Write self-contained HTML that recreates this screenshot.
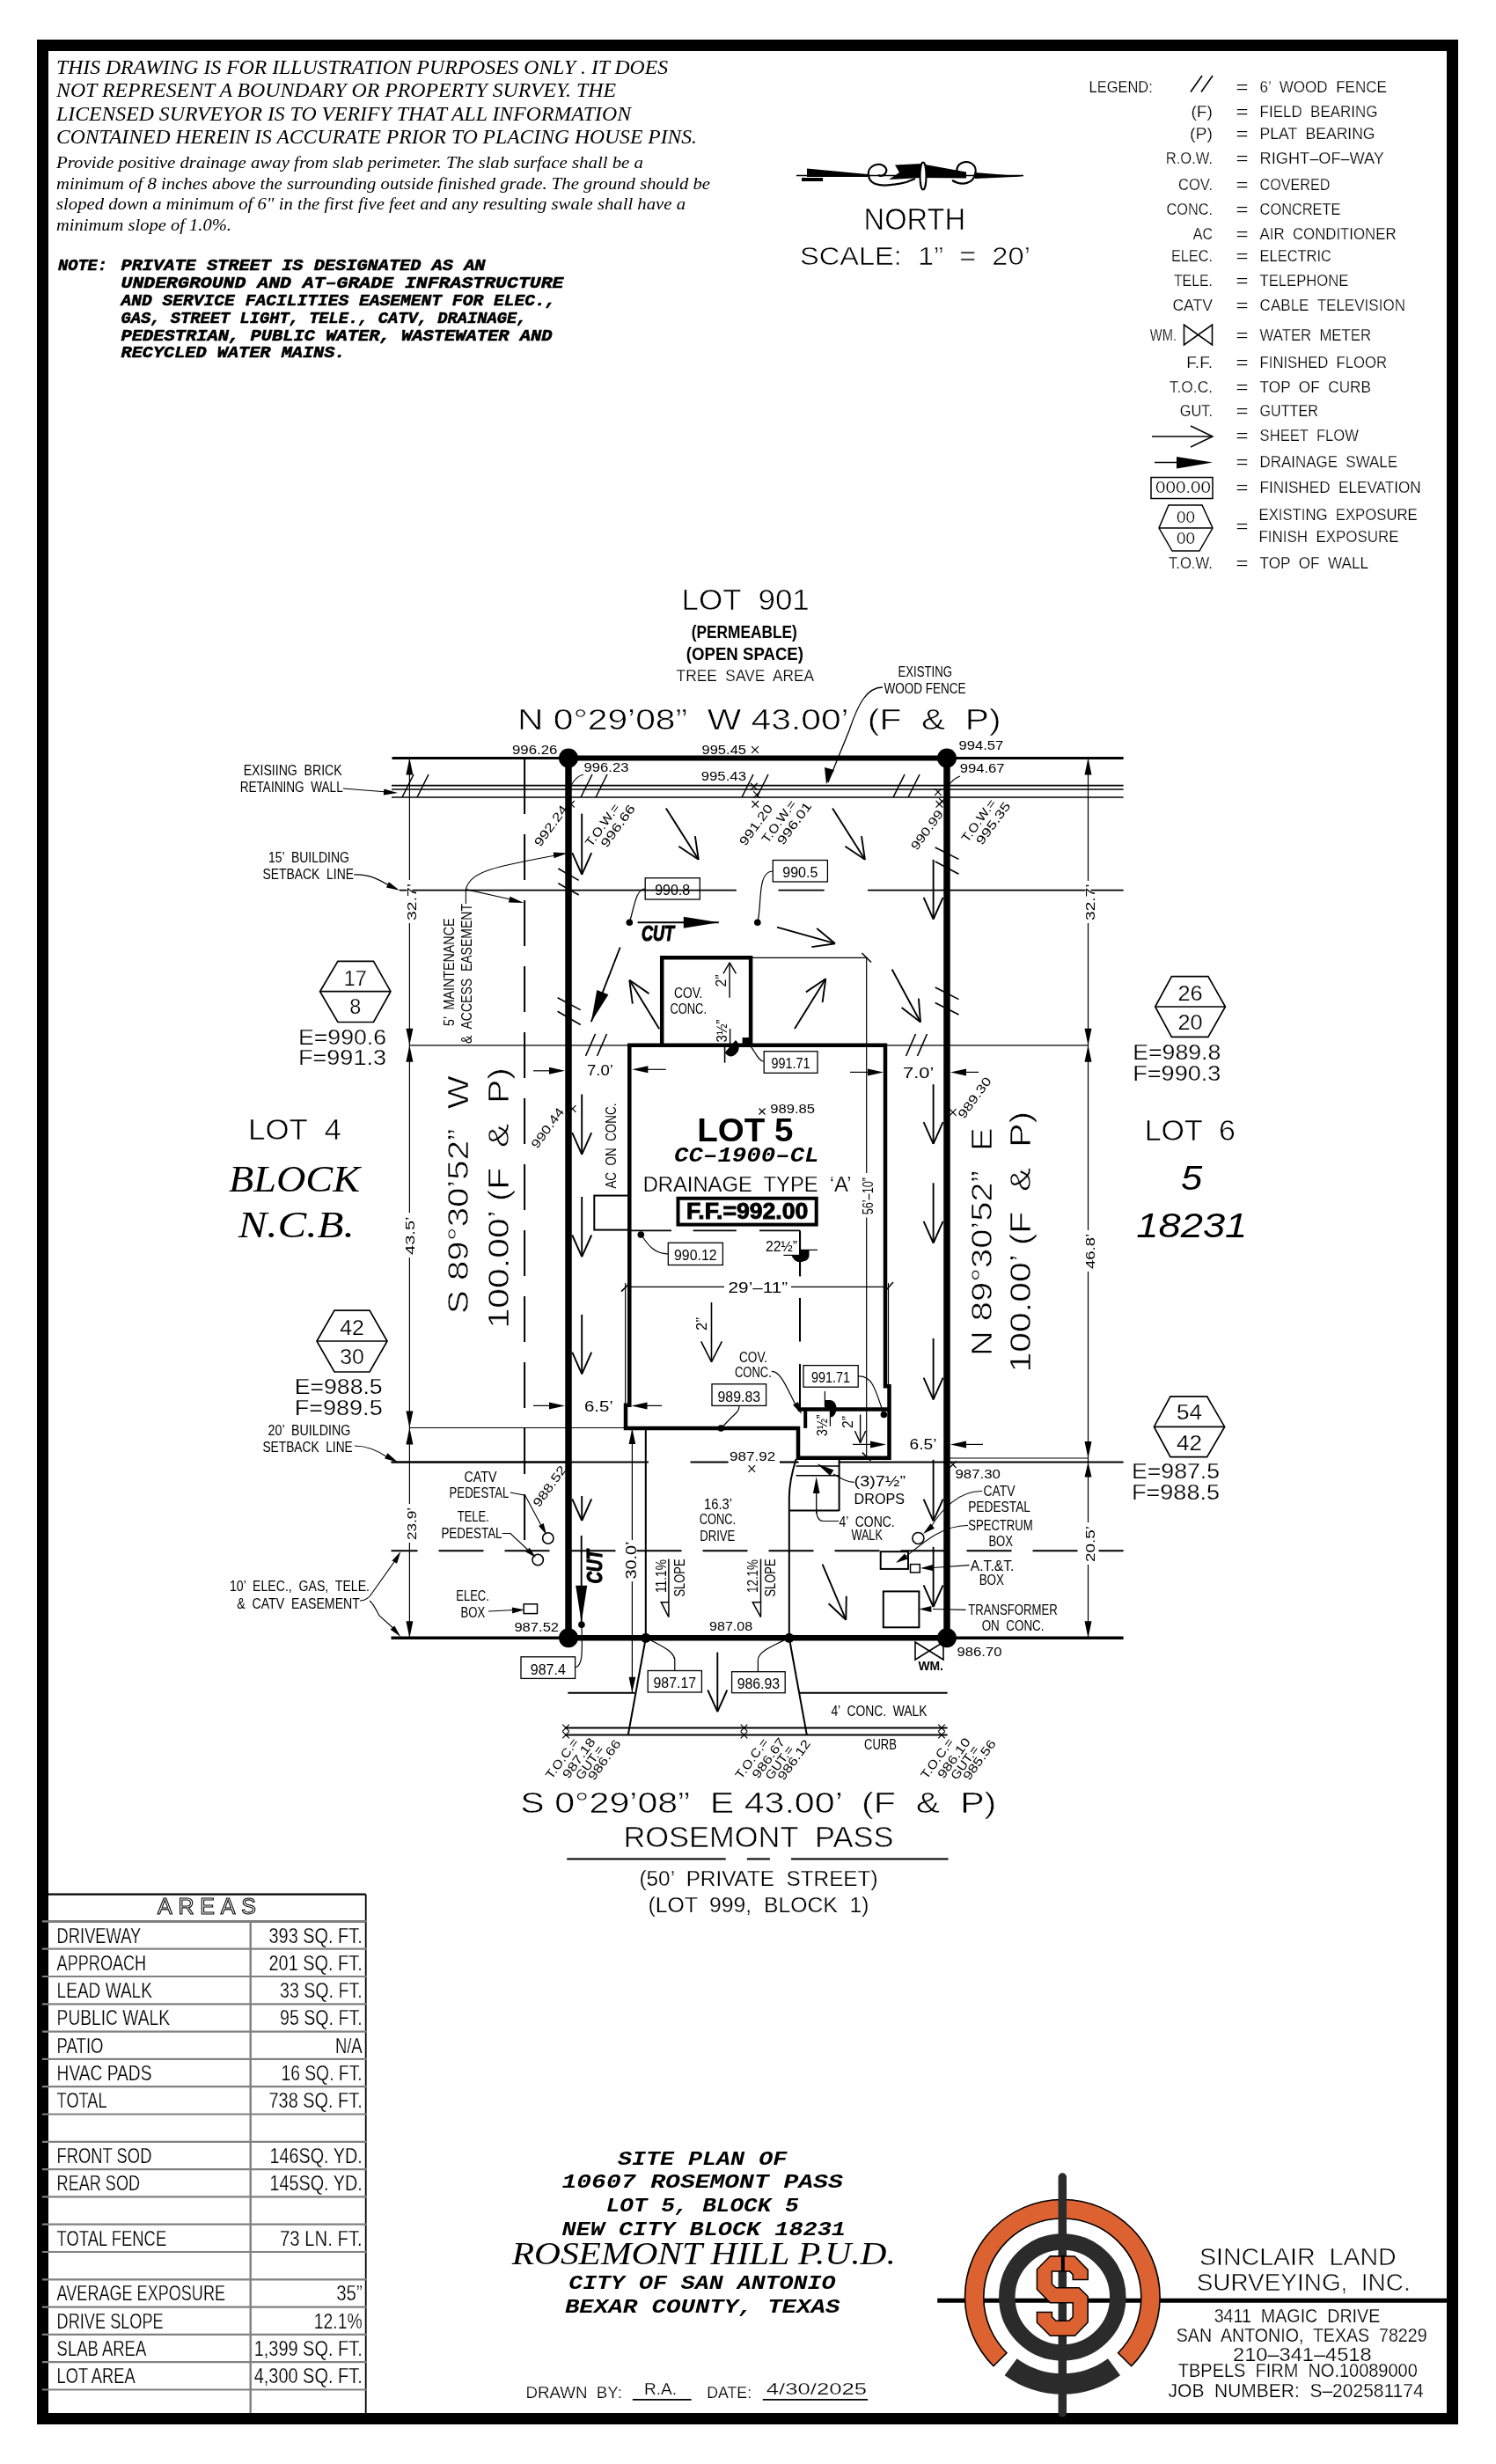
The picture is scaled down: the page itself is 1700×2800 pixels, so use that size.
<!DOCTYPE html>
<html><head><meta charset="utf-8">
<style>
html,body{margin:0;padding:0;background:#fff;width:1700px;height:2800px;overflow:hidden}
svg{display:block;will-change:transform}
text{white-space:pre}
.s{font-family:"Liberation Sans",sans-serif;fill:#000;stroke:#fff;stroke-width:0.25px}
.s0{font-family:"Liberation Sans",sans-serif;fill:#000}
.st{font-family:"Liberation Sans",sans-serif;fill:#000;stroke:#fff;stroke-width:0.6px}
.sb{font-family:"Liberation Sans",sans-serif;font-weight:bold;fill:#000}
.si{font-family:"Liberation Serif",serif;font-style:italic;fill:#000}
.sr{font-family:"Liberation Serif",serif;fill:#000}
.nb{font-family:"Liberation Mono",monospace;font-style:italic;font-weight:bold;fill:#000;stroke:#000;stroke-width:0.6px}
.ci{font-family:"Liberation Sans",sans-serif;font-style:italic;font-weight:bold;fill:#000;stroke:#000;stroke-width:1.2px}
.sri{font-family:"Liberation Sans",sans-serif;font-style:italic;fill:#000}
.nt{font-family:"Liberation Mono",monospace;font-style:italic;font-weight:bold;fill:#000}
.sbi{font-family:"Liberation Serif",serif;font-style:italic;font-weight:bold;fill:#000}
</style></head><body>
<svg width="1700" height="2800" viewBox="0 0 1700 2800">
<rect x="48.5" y="51.5" width="1602.0" height="2697.0" stroke="#000" stroke-width="13" fill="none"/>
<text class="si" x="64.0" y="84.0" font-size="23.5" textLength="695.0" lengthAdjust="spacingAndGlyphs">THIS DRAWING IS FOR ILLUSTRATION PURPOSES ONLY . IT DOES</text>
<text class="si" x="64.0" y="110.0" font-size="23.5" textLength="636.0" lengthAdjust="spacingAndGlyphs">NOT REPRESENT A BOUNDARY OR PROPERTY SURVEY. THE</text>
<text class="si" x="64.0" y="136.6" font-size="23.5" textLength="653.0" lengthAdjust="spacingAndGlyphs">LICENSED SURVEYOR IS TO VERIFY THAT ALL INFORMATION</text>
<text class="si" x="64.0" y="163.3" font-size="23.5" textLength="728.0" lengthAdjust="spacingAndGlyphs">CONTAINED HEREIN IS ACCURATE PRIOR TO PLACING HOUSE PINS.</text>
<text class="si" x="64.0" y="191.4" font-size="19.5" textLength="667.0" lengthAdjust="spacingAndGlyphs">Provide positive drainage away from slab perimeter. The slab surface shall be a</text>
<text class="si" x="64.0" y="214.5" font-size="19.5" textLength="743.0" lengthAdjust="spacingAndGlyphs">minimum of 8 inches above the surrounding outside finished grade. The ground should be</text>
<text class="si" x="64.0" y="238.0" font-size="19.5" textLength="715.0" lengthAdjust="spacingAndGlyphs">sloped down a minimum of 6" in the first five feet and any resulting swale shall have a</text>
<text class="si" x="64.0" y="262.2" font-size="19.5" textLength="199.0" lengthAdjust="spacingAndGlyphs">minimum slope of 1.0%.</text>
<text class="nb" x="66.0" y="306.7" font-size="19" textLength="56.0" lengthAdjust="spacingAndGlyphs">NOTE:</text>
<text class="nb" x="137.5" y="306.7" font-size="19" textLength="414.0" lengthAdjust="spacingAndGlyphs">PRIVATE STREET IS DESIGNATED AS AN</text>
<text class="nb" x="137.5" y="326.8" font-size="19" textLength="503.0" lengthAdjust="spacingAndGlyphs">UNDERGROUND AND AT–GRADE INFRASTRUCTURE</text>
<text class="nb" x="137.5" y="346.8" font-size="19" textLength="494.0" lengthAdjust="spacingAndGlyphs">AND SERVICE FACILITIES EASEMENT FOR ELEC.,</text>
<text class="nb" x="137.5" y="366.9" font-size="19" textLength="461.0" lengthAdjust="spacingAndGlyphs">GAS, STREET LIGHT, TELE., CATV, DRAINAGE,</text>
<text class="nb" x="137.5" y="387.0" font-size="19" textLength="490.0" lengthAdjust="spacingAndGlyphs">PEDESTRIAN, PUBLIC WATER, WASTEWATER AND</text>
<text class="nb" x="137.5" y="405.7" font-size="19" textLength="255.0" lengthAdjust="spacingAndGlyphs">RECYCLED WATER MAINS.</text>
<text class="s" x="1237.6" y="104.5" font-size="18.5" textLength="72.2" lengthAdjust="spacingAndGlyphs">LEGEND:</text>
<text class="s" x="1431.6" y="104.5" font-size="18.5" textLength="144.4" lengthAdjust="spacingAndGlyphs">6’  WOOD  FENCE</text>
<text class="s" x="1404.5" y="104.5" font-size="18.5" textLength="14.0" lengthAdjust="spacingAndGlyphs">=</text>
<text class="s" x="1353.4" y="133.1" font-size="18.5" textLength="24.6" lengthAdjust="spacingAndGlyphs">(F)</text>
<text class="s" x="1431.6" y="133.1" font-size="18.5" textLength="133.9" lengthAdjust="spacingAndGlyphs">FIELD  BEARING</text>
<text class="s" x="1404.5" y="133.1" font-size="18.5" textLength="14.0" lengthAdjust="spacingAndGlyphs">=</text>
<text class="s" x="1352.0" y="157.8" font-size="18.5" textLength="26.0" lengthAdjust="spacingAndGlyphs">(P)</text>
<text class="s" x="1431.6" y="157.8" font-size="18.5" textLength="130.9" lengthAdjust="spacingAndGlyphs">PLAT  BEARING</text>
<text class="s" x="1404.5" y="157.8" font-size="18.5" textLength="14.0" lengthAdjust="spacingAndGlyphs">=</text>
<text class="s" x="1324.8" y="186.4" font-size="18.5" textLength="53.2" lengthAdjust="spacingAndGlyphs">R.O.W.</text>
<text class="s" x="1431.6" y="186.4" font-size="18.5" textLength="141.4" lengthAdjust="spacingAndGlyphs">RIGHT–OF–WAY</text>
<text class="s" x="1404.5" y="186.4" font-size="18.5" textLength="14.0" lengthAdjust="spacingAndGlyphs">=</text>
<text class="s" x="1339.0" y="215.5" font-size="18.5" textLength="39.0" lengthAdjust="spacingAndGlyphs">COV.</text>
<text class="s" x="1431.6" y="215.5" font-size="18.5" textLength="79.8" lengthAdjust="spacingAndGlyphs">COVERED</text>
<text class="s" x="1404.5" y="215.5" font-size="18.5" textLength="14.0" lengthAdjust="spacingAndGlyphs">=</text>
<text class="s" x="1325.5" y="243.5" font-size="18.5" textLength="52.5" lengthAdjust="spacingAndGlyphs">CONC.</text>
<text class="s" x="1431.6" y="243.5" font-size="18.5" textLength="91.8" lengthAdjust="spacingAndGlyphs">CONCRETE</text>
<text class="s" x="1404.5" y="243.5" font-size="18.5" textLength="14.0" lengthAdjust="spacingAndGlyphs">=</text>
<text class="s" x="1355.8" y="271.5" font-size="18.5" textLength="22.2" lengthAdjust="spacingAndGlyphs">AC</text>
<text class="s" x="1431.6" y="271.5" font-size="18.5" textLength="155.0" lengthAdjust="spacingAndGlyphs">AIR  CONDITIONER</text>
<text class="s" x="1404.5" y="271.5" font-size="18.5" textLength="14.0" lengthAdjust="spacingAndGlyphs">=</text>
<text class="s" x="1330.9" y="296.8" font-size="18.5" textLength="47.1" lengthAdjust="spacingAndGlyphs">ELEC.</text>
<text class="s" x="1431.6" y="296.8" font-size="18.5" textLength="81.3" lengthAdjust="spacingAndGlyphs">ELECTRIC</text>
<text class="s" x="1404.5" y="296.8" font-size="18.5" textLength="14.0" lengthAdjust="spacingAndGlyphs">=</text>
<text class="s" x="1333.9" y="324.7" font-size="18.5" textLength="44.1" lengthAdjust="spacingAndGlyphs">TELE.</text>
<text class="s" x="1431.6" y="324.7" font-size="18.5" textLength="100.8" lengthAdjust="spacingAndGlyphs">TELEPHONE</text>
<text class="s" x="1404.5" y="324.7" font-size="18.5" textLength="14.0" lengthAdjust="spacingAndGlyphs">=</text>
<text class="s" x="1332.4" y="353.3" font-size="18.5" textLength="45.6" lengthAdjust="spacingAndGlyphs">CATV</text>
<text class="s" x="1431.6" y="353.3" font-size="18.5" textLength="165.4" lengthAdjust="spacingAndGlyphs">CABLE  TELEVISION</text>
<text class="s" x="1404.5" y="353.3" font-size="18.5" textLength="14.0" lengthAdjust="spacingAndGlyphs">=</text>
<text class="s" x="1306.8" y="387.0" font-size="18.5" textLength="30.2" lengthAdjust="spacingAndGlyphs">WM.</text>
<text class="s" x="1431.6" y="387.0" font-size="18.5" textLength="126.4" lengthAdjust="spacingAndGlyphs">WATER  METER</text>
<text class="s" x="1404.5" y="387.0" font-size="18.5" textLength="14.0" lengthAdjust="spacingAndGlyphs">=</text>
<text class="s" x="1348.3" y="417.7" font-size="18.5" textLength="29.7" lengthAdjust="spacingAndGlyphs">F.F.</text>
<text class="s" x="1431.6" y="417.7" font-size="18.5" textLength="144.4" lengthAdjust="spacingAndGlyphs">FINISHED  FLOOR</text>
<text class="s" x="1404.5" y="417.7" font-size="18.5" textLength="14.0" lengthAdjust="spacingAndGlyphs">=</text>
<text class="s" x="1328.8" y="446.3" font-size="18.5" textLength="49.2" lengthAdjust="spacingAndGlyphs">T.O.C.</text>
<text class="s" x="1431.6" y="446.3" font-size="18.5" textLength="126.4" lengthAdjust="spacingAndGlyphs">TOP  OF  CURB</text>
<text class="s" x="1404.5" y="446.3" font-size="18.5" textLength="14.0" lengthAdjust="spacingAndGlyphs">=</text>
<text class="s" x="1340.8" y="472.7" font-size="18.5" textLength="37.2" lengthAdjust="spacingAndGlyphs">GUT.</text>
<text class="s" x="1431.6" y="472.7" font-size="18.5" textLength="66.2" lengthAdjust="spacingAndGlyphs">GUTTER</text>
<text class="s" x="1404.5" y="472.7" font-size="18.5" textLength="14.0" lengthAdjust="spacingAndGlyphs">=</text>
<text class="s" x="1431.6" y="501.0" font-size="18.5" textLength="112.3" lengthAdjust="spacingAndGlyphs">SHEET  FLOW</text>
<text class="s" x="1404.5" y="501.0" font-size="18.5" textLength="14.0" lengthAdjust="spacingAndGlyphs">=</text>
<text class="s" x="1431.6" y="530.5" font-size="18.5" textLength="156.4" lengthAdjust="spacingAndGlyphs">DRAINAGE  SWALE</text>
<text class="s" x="1404.5" y="530.5" font-size="18.5" textLength="14.0" lengthAdjust="spacingAndGlyphs">=</text>
<text class="s" x="1431.6" y="560.0" font-size="18.5" textLength="183.0" lengthAdjust="spacingAndGlyphs">FINISHED  ELEVATION</text>
<text class="s" x="1404.5" y="560.0" font-size="18.5" textLength="14.0" lengthAdjust="spacingAndGlyphs">=</text>
<text class="s" x="1430.5" y="590.7" font-size="18.5" textLength="180.2" lengthAdjust="spacingAndGlyphs">EXISTING  EXPOSURE</text>
<text class="s" x="1430.5" y="616.2" font-size="18.5" textLength="159.1" lengthAdjust="spacingAndGlyphs">FINISH  EXPOSURE</text>
<text class="s" x="1327.9" y="646.3" font-size="18.5" textLength="50.1" lengthAdjust="spacingAndGlyphs">T.O.W.</text>
<text class="s" x="1431.6" y="646.3" font-size="18.5" textLength="123.4" lengthAdjust="spacingAndGlyphs">TOP  OF  WALL</text>
<text class="s" x="1404.5" y="646.3" font-size="18.5" textLength="14.0" lengthAdjust="spacingAndGlyphs">=</text>
<text class="s" x="1404.5" y="603.6" font-size="18.5" textLength="14.0" lengthAdjust="spacingAndGlyphs">=</text>
<line x1="1353.0" y1="104.5" x2="1366.0" y2="86.0" stroke="#000" stroke-width="1.6"/>
<line x1="1365.0" y1="104.5" x2="1378.0" y2="86.0" stroke="#000" stroke-width="1.6"/>
<path d="M1345.5,369 V392 L1377.5,369 V392 Z" stroke="#000" stroke-width="1.6" fill="none"/>
<line x1="1309.0" y1="496.0" x2="1378.0" y2="496.0" stroke="#000" stroke-width="1.5"/>
<path d="M1353,484 L1378,496 L1353,508" stroke="#000" stroke-width="1.5" fill="none"/>
<line x1="1312.0" y1="525.5" x2="1345.0" y2="525.5" stroke="#000" stroke-width="1.5"/>
<polygon points="1337,519 1378,525.5 1337,532.5" fill="#000"/>
<rect x="1308.0" y="542.5" width="70.0" height="24.0" stroke="#000" stroke-width="1.5" fill="none"/>
<text class="s" x="1313.0" y="560.0" font-size="18.5" textLength="63.0" lengthAdjust="spacingAndGlyphs">000.00</text>
<path d="M1328,574 L1366,574 L1378,600 L1363,626 L1332,626 L1317,600 Z" stroke="#000" stroke-width="1.5" fill="none"/>
<line x1="1317.0" y1="600.0" x2="1378.0" y2="600.0" stroke="#000" stroke-width="1.5"/>
<text class="s" x="1337.0" y="594.3" font-size="18.5" textLength="21.0" lengthAdjust="spacingAndGlyphs">00</text>
<text class="s" x="1337.0" y="618.4" font-size="18.5" textLength="21.0" lengthAdjust="spacingAndGlyphs">00</text>
<line x1="905.0" y1="199.5" x2="1163.0" y2="199.5" stroke="#000" stroke-width="1.6"/>
<polygon points="917,191.5 986,198 986,201 917,201" fill="#000"/>
<rect x="911" y="202" width="24" height="4" fill="#000"/>
<polygon points="1017,187.5 1046,186 1098,195.5 1098,202.5 1046,202 1010,204 1022,196" fill="#000"/>
<path d="M987,199 C985,188 1000,183 1006,190 C1010,196 1003,202 998,199 M987,199 C988,212 1005,213 1030,207 L1040,203" stroke="#000" stroke-width="2.2" fill="none"/>
<path d="M1108,198 C1112,186 1098,180 1090,187 C1084,194 1090,202 1096,198 M1108,198 C1106,208 1094,212 1082,205" stroke="#000" stroke-width="2.2" fill="none"/>
<polygon points="1108,196 1163,200.5 1108,203" fill="#000"/>
<ellipse cx="1049" cy="200" rx="3.5" ry="15.5" fill="#fff" stroke="#000" stroke-width="2"/>
<text class="st" x="981.6" y="260.5" font-size="35" textLength="115.4" lengthAdjust="spacingAndGlyphs">NORTH</text>
<text class="st" x="908.9" y="300.7" font-size="30" textLength="262.0" lengthAdjust="spacingAndGlyphs">SCALE:  1”  =  20’</text>
<text class="st" x="774.6" y="692.9" font-size="33" textLength="145.2" lengthAdjust="spacingAndGlyphs">LOT  901</text>
<text class="sb" x="785.8" y="725.0" font-size="20" textLength="120.0" lengthAdjust="spacingAndGlyphs">(PERMEABLE)</text>
<text class="sb" x="779.8" y="750.3" font-size="20" textLength="133.2" lengthAdjust="spacingAndGlyphs">(OPEN SPACE)</text>
<text class="s" x="768.6" y="773.5" font-size="19" textLength="156.4" lengthAdjust="spacingAndGlyphs">TREE  SAVE  AREA</text>
<text class="s0" x="1020.5" y="769.0" font-size="16" textLength="61.5" lengthAdjust="spacingAndGlyphs">EXISTING</text>
<text class="s0" x="1004.4" y="788.4" font-size="16" textLength="93.1" lengthAdjust="spacingAndGlyphs">WOOD FENCE</text>
<path d="M1003,781 C985,781 975,800 965,830 L941,889" stroke="#000" stroke-width="1.3" fill="none"/>
<polygon points="939,891 937,872 948,875" fill="#000"/>
<text class="st" x="588.0" y="829.3" font-size="33" textLength="549.6" lengthAdjust="spacingAndGlyphs">N 0°29’08”  W 43.00’  (F  &amp;  P)</text>
<line x1="445.5" y1="861.5" x2="646.0" y2="861.5" stroke="#000" stroke-width="2.8"/>
<line x1="1076.0" y1="861.5" x2="1276.6" y2="861.5" stroke="#000" stroke-width="2.8"/>
<line x1="444.5" y1="1861.3" x2="646.0" y2="1861.3" stroke="#000" stroke-width="3.5"/>
<line x1="1076.0" y1="1861.3" x2="1276.6" y2="1861.3" stroke="#000" stroke-width="3.5"/>
<line x1="445.0" y1="892.7" x2="1276.6" y2="892.7" stroke="#000" stroke-width="1.7"/>
<line x1="445.0" y1="897.0" x2="1276.6" y2="897.0" stroke="#000" stroke-width="1.7"/>
<line x1="445.0" y1="906.0" x2="1276.6" y2="906.0" stroke="#000" stroke-width="1.7"/>
<line x1="646.0" y1="861.5" x2="1076.0" y2="861.5" stroke="#000" stroke-width="6"/>
<line x1="646.0" y1="1861.3" x2="1076.0" y2="1861.3" stroke="#000" stroke-width="6.5"/>
<line x1="646.0" y1="861.5" x2="646.0" y2="1861.3" stroke="#000" stroke-width="7.5"/>
<line x1="1076.0" y1="861.5" x2="1076.0" y2="1861.3" stroke="#000" stroke-width="7.5"/>
<circle cx="646.0" cy="861.5" r="11" fill="#000" stroke="#000" stroke-width="0"/>
<circle cx="1076.0" cy="861.5" r="11" fill="#000" stroke="#000" stroke-width="0"/>
<circle cx="646.0" cy="1861.3" r="11" fill="#000" stroke="#000" stroke-width="0"/>
<circle cx="1076.0" cy="1861.3" r="11" fill="#000" stroke="#000" stroke-width="0"/>
<line x1="453.8" y1="1011.7" x2="646.0" y2="1011.7" stroke="#000" stroke-width="1.7"/>
<line x1="646.0" y1="1011.7" x2="836.8" y2="1011.7" stroke="#000" stroke-width="1.7"/>
<line x1="884.5" y1="1011.7" x2="936.7" y2="1011.7" stroke="#000" stroke-width="1.7"/>
<line x1="986.0" y1="1011.7" x2="1276.6" y2="1011.7" stroke="#000" stroke-width="1.7"/>
<line x1="465.4" y1="1187.8" x2="1236.5" y2="1187.8" stroke="#000" stroke-width="1.2"/>
<line x1="465.4" y1="1622.5" x2="711.0" y2="1622.5" stroke="#000" stroke-width="1.2"/>
<line x1="1077.0" y1="1657.0" x2="1236.5" y2="1657.0" stroke="#000" stroke-width="1.2"/>
<line x1="444.5" y1="1661.5" x2="646.0" y2="1661.5" stroke="#000" stroke-width="2.5"/>
<line x1="646.0" y1="1661.5" x2="736.9" y2="1661.5" stroke="#000" stroke-width="2.2"/>
<line x1="784.5" y1="1661.5" x2="827.6" y2="1661.5" stroke="#000" stroke-width="2.2"/>
<line x1="886.0" y1="1661.5" x2="907.5" y2="1661.5" stroke="#000" stroke-width="2.2"/>
<line x1="953.6" y1="1661.5" x2="1276.6" y2="1661.5" stroke="#000" stroke-width="2.2"/>
<line x1="444.5" y1="1762.3" x2="1276.6" y2="1762.3" stroke="#000" stroke-width="2" stroke-dasharray="51 24" stroke-dashoffset="21"/>
<line x1="465.4" y1="861.5" x2="465.4" y2="1861.3" stroke="#000" stroke-width="1.2"/>
<line x1="1236.5" y1="861.5" x2="1236.5" y2="1861.3" stroke="#000" stroke-width="1.2"/>
<line x1="596.1" y1="862" x2="596.1" y2="925" stroke="#000" stroke-width="2"/>
<line x1="596.1" y1="948" x2="596.1" y2="1762" stroke="#000" stroke-width="2" stroke-dasharray="52 23"/>
<rect x="462.4" y="1000" width="6" height="49" fill="#fff"/>
<rect x="462.4" y="1378" width="6" height="51" fill="#fff"/>
<rect x="462.4" y="1709" width="6" height="44" fill="#fff"/>
<rect x="1233.5" y="1001" width="6" height="48" fill="#fff"/>
<rect x="1233.5" y="1398" width="6" height="47" fill="#fff"/>
<rect x="1233.5" y="1730" width="6" height="48" fill="#fff"/>
<polygon points="465.4,861.5 469.4,880.5 461.4,880.5" fill="#000"/>
<polygon points="465.4,1187.8 461.4,1168.8 469.4,1168.8" fill="#000"/>
<polygon points="465.4,1187.8 469.4,1206.8 461.4,1206.8" fill="#000"/>
<polygon points="465.4,1861.3 461.4,1842.3 469.4,1842.3" fill="#000"/>
<polygon points="1236.5,861.5 1240.5,880.5 1232.5,880.5" fill="#000"/>
<polygon points="1236.5,1187.8 1232.5,1168.8 1240.5,1168.8" fill="#000"/>
<polygon points="1236.5,1187.8 1240.5,1206.8 1232.5,1206.8" fill="#000"/>
<polygon points="1236.5,1861.3 1232.5,1842.3 1240.5,1842.3" fill="#000"/>
<polygon points="465.4,1622.5 461.4,1603.5 469.4,1603.5" fill="#000"/>
<polygon points="465.4,1622.5 469.4,1641.5 461.4,1641.5" fill="#000"/>
<polygon points="1236.5,1657.0 1232.5,1638.0 1240.5,1638.0" fill="#000"/>
<polygon points="1236.5,1661.5 1240.5,1678.5 1232.5,1678.5" fill="#000"/>
<text class="s0" x="473.0" y="1045.9" font-size="15" textLength="42.0" lengthAdjust="spacingAndGlyphs" transform="rotate(-90 473 1045.9)">32.7’</text>
<text class="s0" x="471.0" y="1426.0" font-size="15" textLength="43.5" lengthAdjust="spacingAndGlyphs" transform="rotate(-90 471 1426)">43.5’</text>
<text class="s0" x="473.0" y="1750.0" font-size="15" textLength="37.0" lengthAdjust="spacingAndGlyphs" transform="rotate(-90 473 1750)">23.9’</text>
<text class="s0" x="1243.5" y="1046.0" font-size="15" textLength="41.5" lengthAdjust="spacingAndGlyphs" transform="rotate(-90 1243.5 1046)">32.7’</text>
<text class="s0" x="1243.5" y="1442.0" font-size="15" textLength="40.0" lengthAdjust="spacingAndGlyphs" transform="rotate(-90 1243.5 1442)">46.8’</text>
<text class="s0" x="1243.5" y="1775.0" font-size="15" textLength="41.0" lengthAdjust="spacingAndGlyphs" transform="rotate(-90 1243.5 1775)">20.5’</text>
<path d="M715.3,1187.8 H1006 V1575.3 H1010.5 V1656.8 H907 V1622.9 H711 V1596.8 H715.3 Z" stroke="#000" stroke-width="4.5" fill="none"/>
<line x1="907.0" y1="1601.4" x2="1010.5" y2="1601.4" stroke="#000" stroke-width="4.5"/>
<line x1="915.2" y1="1601.4" x2="915.2" y2="1622.9" stroke="#000" stroke-width="4"/>
<path d="M752.2,1187.8 V1088.3 H853.1 V1187.8" stroke="#000" stroke-width="4.5" fill="none"/>
<line x1="853.0" y1="1088.3" x2="984.7" y2="1088.3" stroke="#000" stroke-width="1.2"/>
<line x1="979.5" y1="1083.0" x2="990.0" y2="1093.5" stroke="#000" stroke-width="1.5"/>
<line x1="984.7" y1="1088.3" x2="984.7" y2="1333.0" stroke="#000" stroke-width="1.2"/>
<line x1="984.7" y1="1383.6" x2="984.7" y2="1656.8" stroke="#000" stroke-width="1.2"/>
<line x1="979.8" y1="1650.6" x2="989.5" y2="1660.0" stroke="#000" stroke-width="1.5"/>
<text class="s0" x="992.0" y="1380.3" font-size="17" textLength="42.3" lengthAdjust="spacingAndGlyphs" transform="rotate(-90 992 1380.3)">56’–10”</text>
<line x1="715.3" y1="1462.4" x2="823.0" y2="1462.4" stroke="#000" stroke-width="1.2"/>
<line x1="899.0" y1="1462.4" x2="1006.0" y2="1462.4" stroke="#000" stroke-width="1.2"/>
<line x1="706.0" y1="1467.6" x2="715.3" y2="1458.4" stroke="#000" stroke-width="1.5"/>
<line x1="1006.0" y1="1467.0" x2="1015.0" y2="1457.0" stroke="#000" stroke-width="1.5"/>
<line x1="710.7" y1="1458.0" x2="710.7" y2="1597.0" stroke="#000" stroke-width="1.2"/>
<line x1="1009.5" y1="1458.0" x2="1009.5" y2="1575.0" stroke="#000" stroke-width="1.2"/>
<text class="s0" x="827.6" y="1468.6" font-size="17" textLength="67.6" lengthAdjust="spacingAndGlyphs">29’–11”</text>
<rect x="675.3" y="1358.6" width="40.0" height="39.0" stroke="#000" stroke-width="2" fill="none"/>
<text class="s0" x="700.0" y="1350.6" font-size="16" textLength="97.0" lengthAdjust="spacingAndGlyphs" transform="rotate(-90 700 1350.6)">AC  ON  CONC.</text>
<line x1="715.3" y1="1398.3" x2="763.0" y2="1398.3" stroke="#000" stroke-width="1.8"/>
<line x1="787.6" y1="1398.3" x2="836.8" y2="1398.3" stroke="#000" stroke-width="1.8"/>
<line x1="863.0" y1="1398.3" x2="909.0" y2="1398.3" stroke="#000" stroke-width="1.8"/>
<line x1="909.0" y1="1398.3" x2="909.0" y2="1449.0" stroke="#000" stroke-width="2"/>
<line x1="909.0" y1="1475.0" x2="909.0" y2="1524.5" stroke="#000" stroke-width="2"/>
<line x1="909.0" y1="1550.0" x2="909.0" y2="1601.0" stroke="#000" stroke-width="2"/>
<text class="sb" x="792.2" y="1296.8" font-size="36" textLength="109.2" lengthAdjust="spacingAndGlyphs">LOT 5</text>
<text class="nt" x="766.0" y="1319.8" font-size="24" textLength="164.6" lengthAdjust="spacingAndGlyphs">CC–1900–CL</text>
<text class="s" x="730.7" y="1353.7" font-size="24" textLength="236.8" lengthAdjust="spacingAndGlyphs">DRAINAGE  TYPE  ‘A’</text>
<rect x="770.5" y="1361.8" width="157.2" height="29.8" stroke="#000" stroke-width="4" fill="none"/>
<text class="sb" x="780.0" y="1385.3" font-size="25" textLength="138.3" lengthAdjust="spacingAndGlyphs" stroke="#000" stroke-width="0.9">F.F.=992.00</text>
<line x1="862.5" y1="1259.5" x2="869.5" y2="1266.5" stroke="#000" stroke-width="1.2"/>
<line x1="862.5" y1="1266.5" x2="869.5" y2="1259.5" stroke="#000" stroke-width="1.2"/>
<text class="s0" x="875.2" y="1265.4" font-size="14" textLength="50.8" lengthAdjust="spacingAndGlyphs">989.85</text>
<text class="s0" x="766.0" y="1133.8" font-size="16" textLength="32.4" lengthAdjust="spacingAndGlyphs">COV.</text>
<text class="s0" x="761.5" y="1151.6" font-size="16" textLength="41.5" lengthAdjust="spacingAndGlyphs">CONC.</text>
<text class="s0" x="840.0" y="1547.6" font-size="16" textLength="32.0" lengthAdjust="spacingAndGlyphs">COV.</text>
<text class="s0" x="835.0" y="1564.5" font-size="16" textLength="41.8" lengthAdjust="spacingAndGlyphs">CONC.</text>
<text class="s0" x="667.0" y="1222.0" font-size="16" textLength="29.9" lengthAdjust="spacingAndGlyphs">7.0’</text>
<text class="s0" x="1026.0" y="1224.5" font-size="16" textLength="35.3" lengthAdjust="spacingAndGlyphs">7.0’</text>
<text class="s0" x="664.0" y="1603.6" font-size="16" textLength="32.9" lengthAdjust="spacingAndGlyphs">6.5’</text>
<text class="s0" x="1033.6" y="1646.6" font-size="16" textLength="30.8" lengthAdjust="spacingAndGlyphs">6.5’</text>
<text class="s0" x="870.0" y="1421.5" font-size="16" textLength="36.0" lengthAdjust="spacingAndGlyphs">22½”</text>
<text class="s0" x="824.5" y="1121.5" font-size="16" textLength="14.0" lengthAdjust="spacingAndGlyphs" transform="rotate(-90 824.5 1121.5)">2”</text>
<text class="s0" x="826.0" y="1184.5" font-size="16" textLength="26.0" lengthAdjust="spacingAndGlyphs" transform="rotate(-90 826 1184.5)">3½”</text>
<text class="s0" x="803.0" y="1512.0" font-size="16" textLength="15.0" lengthAdjust="spacingAndGlyphs" transform="rotate(-90 803 1512)">2”</text>
<text class="s0" x="939.8" y="1632.0" font-size="16" textLength="24.5" lengthAdjust="spacingAndGlyphs" transform="rotate(-90 939.8 1632)">3½”</text>
<text class="s0" x="969.0" y="1623.0" font-size="16" textLength="14.0" lengthAdjust="spacingAndGlyphs" transform="rotate(-90 969 1623)">2”</text>
<line x1="606.0" y1="1216.8" x2="625.0" y2="1216.8" stroke="#000" stroke-width="1.2"/>
<polygon points="642.0,1216.8 624.0,1220.8 624.0,1212.8" fill="#000"/>
<line x1="756.8" y1="1215.3" x2="735.0" y2="1215.3" stroke="#000" stroke-width="1.2"/>
<polygon points="718.4,1215.3 736.4,1211.3 736.4,1219.3" fill="#000"/>
<line x1="966.0" y1="1218.4" x2="986.0" y2="1218.4" stroke="#000" stroke-width="1.2"/>
<polygon points="1004.0,1218.4 986.0,1222.4 986.0,1214.4" fill="#000"/>
<line x1="1112.0" y1="1218.4" x2="1095.0" y2="1218.4" stroke="#000" stroke-width="1.2"/>
<polygon points="1080.0,1218.4 1098.0,1214.4 1098.0,1222.4" fill="#000"/>
<line x1="606.0" y1="1597.4" x2="625.0" y2="1597.4" stroke="#000" stroke-width="1.2"/>
<polygon points="642.0,1597.4 624.0,1601.4 624.0,1593.4" fill="#000"/>
<line x1="752.2" y1="1597.4" x2="735.0" y2="1597.4" stroke="#000" stroke-width="1.2"/>
<polygon points="717.5,1597.4 735.5,1593.4 735.5,1601.4" fill="#000"/>
<line x1="969.0" y1="1641.4" x2="990.0" y2="1641.4" stroke="#000" stroke-width="1.2"/>
<polygon points="1007.0,1641.4 989.0,1645.4 989.0,1637.4" fill="#000"/>
<line x1="1117.0" y1="1641.4" x2="1098.0" y2="1641.4" stroke="#000" stroke-width="1.2"/>
<polygon points="1080.0,1641.4 1098.0,1637.4 1098.0,1645.4" fill="#000"/>
<path d="M823.6,1196 L836,1182 C841,1186 841,1194 836,1198 C832,1202 827,1201 823.6,1196 Z" fill="#000"/>
<line x1="823.6" y1="1188.0" x2="823.6" y2="1207.7" stroke="#000" stroke-width="1.6"/>
<line x1="829.6" y1="1169.0" x2="829.6" y2="1187.0" stroke="#000" stroke-width="1.4"/>
<path d="M899.4,1426.4 H909.1 V1420.4 H919.5 V1427 C919,1432 914,1434 909,1434 C904,1434 901,1430 899.4,1426.4 Z" fill="#000"/>
<line x1="890.4" y1="1426.4" x2="909.1" y2="1426.4" stroke="#000" stroke-width="1.2"/>
<line x1="909.1" y1="1420.4" x2="928.9" y2="1420.4" stroke="#000" stroke-width="1.2"/>
<line x1="909.1" y1="1400.0" x2="909.1" y2="1450.5" stroke="#000" stroke-width="2"/>
<path d="M937.4,1591 H943.4 A7,9.5 0 0 1 943.4,1610.5 V1600.5 H937.4 Z" fill="#000"/>
<line x1="937.4" y1="1581.0" x2="937.4" y2="1598.7" stroke="#000" stroke-width="1.2"/>
<line x1="943.4" y1="1603.4" x2="943.4" y2="1620.8" stroke="#000" stroke-width="1.2"/>
<rect x="843.6" y="1179" width="8.5" height="8.5" fill="#000"/>
<rect x="733.2" y="997.7" width="62.1" height="24.3" stroke="#000" stroke-width="1.3" fill="none"/>
<text class="s0" x="764.2" y="1017.0" font-size="16" text-anchor="middle" textLength="40.0" lengthAdjust="spacingAndGlyphs">990.8</text>
<rect x="878.3" y="977.5" width="62.1" height="24.5" stroke="#000" stroke-width="1.3" fill="none"/>
<text class="s0" x="909.3" y="996.5" font-size="16" text-anchor="middle" textLength="40.0" lengthAdjust="spacingAndGlyphs">990.5</text>
<rect x="868.2" y="1194.7" width="60.8" height="24.6" stroke="#000" stroke-width="1.3" fill="none"/>
<text class="s0" x="898.6" y="1213.7" font-size="16" text-anchor="middle" textLength="44.0" lengthAdjust="spacingAndGlyphs">991.71</text>
<rect x="759.3" y="1412.3" width="62.1" height="25.2" stroke="#000" stroke-width="1.3" fill="none"/>
<text class="s0" x="790.3" y="1432.3" font-size="16" text-anchor="middle" textLength="48.5" lengthAdjust="spacingAndGlyphs">990.12</text>
<rect x="809.0" y="1572.8" width="61.6" height="24.6" stroke="#000" stroke-width="1.3" fill="none"/>
<text class="s0" x="839.8" y="1592.8" font-size="16" text-anchor="middle" textLength="48.5" lengthAdjust="spacingAndGlyphs">989.83</text>
<rect x="913.0" y="1551.6" width="62.2" height="24.6" stroke="#000" stroke-width="1.3" fill="none"/>
<text class="s0" x="944.1" y="1571.3" font-size="16" text-anchor="middle" textLength="44.0" lengthAdjust="spacingAndGlyphs">991.71</text>
<rect x="592.0" y="1882.8" width="61.6" height="24.6" stroke="#000" stroke-width="1.3" fill="none"/>
<text class="s0" x="622.8" y="1902.8" font-size="16" text-anchor="middle" textLength="40.0" lengthAdjust="spacingAndGlyphs">987.4</text>
<rect x="736.2" y="1898.5" width="61.2" height="24.5" stroke="#000" stroke-width="1.3" fill="none"/>
<text class="s0" x="766.8" y="1918.2" font-size="16" text-anchor="middle" textLength="48.5" lengthAdjust="spacingAndGlyphs">987.17</text>
<rect x="831.6" y="1899.7" width="60.6" height="24.0" stroke="#000" stroke-width="1.3" fill="none"/>
<text class="s0" x="861.9" y="1919.1" font-size="16" text-anchor="middle" textLength="48.5" lengthAdjust="spacingAndGlyphs">986.93</text>
<circle cx="715.3" cy="1048.2" r="3.8" fill="#000" stroke="#000" stroke-width="0"/>
<circle cx="860.8" cy="1048.2" r="3.8" fill="#000" stroke="#000" stroke-width="0"/>
<circle cx="728.3" cy="1403.0" r="3.8" fill="#000" stroke="#000" stroke-width="0"/>
<circle cx="819.3" cy="1623.0" r="3.8" fill="#000" stroke="#000" stroke-width="0"/>
<circle cx="1004.4" cy="1607.5" r="3.8" fill="#000" stroke="#000" stroke-width="0"/>
<circle cx="660.9" cy="1846.2" r="3.8" fill="#000" stroke="#000" stroke-width="0"/>
<circle cx="733.8" cy="1861.3" r="5.5" fill="#000" stroke="#000" stroke-width="0"/>
<circle cx="896.8" cy="1861.3" r="5.5" fill="#000" stroke="#000" stroke-width="0"/>
<path d="M715.3,1048 C720,1035 722,1010 733,1010" stroke="#000" stroke-width="1.2" fill="none"/>
<path d="M860.8,1048 C866,1030 860,990 878,990" stroke="#000" stroke-width="1.2" fill="none"/>
<path d="M853,1189 C858,1195 862,1206 868,1206" stroke="#000" stroke-width="1.2" fill="none"/>
<path d="M728.3,1403 C735,1412 742,1425 759,1424.8" stroke="#000" stroke-width="1.2" fill="none"/>
<path d="M819.3,1623 L830,1612 C836,1606 840,1604 840,1597.4" stroke="#000" stroke-width="1.2" fill="none"/>
<path d="M975,1564 C990,1563 994,1575 1004.4,1607.5" stroke="#000" stroke-width="1.2" fill="none"/>
<path d="M653.6,1895 C662,1893 662,1880 660.9,1846" stroke="#000" stroke-width="1.2" fill="none"/>
<path d="M766.8,1898.5 L766.8,1886 C766,1875 745,1868 735,1861" stroke="#000" stroke-width="1.2" fill="none"/>
<path d="M861.4,1899.7 L861.4,1886 C862,1875 885,1868 896,1861" stroke="#000" stroke-width="1.2" fill="none"/>
<path d="M876.8,1558.4 C888,1558 895,1580 908,1604" stroke="#000" stroke-width="1.2" fill="none"/>
<polygon points="911.0,1607.0 901.0,1596.6 907.0,1593.1" fill="#000"/>
<line x1="756.8" y1="918.4" x2="793.8" y2="976.8" stroke="#000" stroke-width="1.9"/>
<line x1="793.8" y1="976.8" x2="771.3" y2="961.8" stroke="#000" stroke-width="1.9"/>
<line x1="793.8" y1="976.8" x2="789.9" y2="950.1" stroke="#000" stroke-width="1.9"/>
<line x1="946.0" y1="918.4" x2="982.9" y2="976.8" stroke="#000" stroke-width="1.9"/>
<line x1="982.9" y1="976.8" x2="960.4" y2="961.8" stroke="#000" stroke-width="1.9"/>
<line x1="982.9" y1="976.8" x2="979.0" y2="950.1" stroke="#000" stroke-width="1.9"/>
<line x1="883.0" y1="1053.7" x2="949.0" y2="1072.2" stroke="#000" stroke-width="1.9"/>
<line x1="949.0" y1="1072.2" x2="922.3" y2="1076.1" stroke="#000" stroke-width="1.9"/>
<line x1="949.0" y1="1072.2" x2="928.2" y2="1055.0" stroke="#000" stroke-width="1.9"/>
<line x1="749.2" y1="1169.2" x2="715.3" y2="1113.8" stroke="#000" stroke-width="1.9"/>
<line x1="715.3" y1="1113.8" x2="737.5" y2="1129.1" stroke="#000" stroke-width="1.9"/>
<line x1="715.3" y1="1113.8" x2="718.8" y2="1140.6" stroke="#000" stroke-width="1.9"/>
<line x1="903.0" y1="1169.0" x2="938.3" y2="1112.3" stroke="#000" stroke-width="1.9"/>
<line x1="938.3" y1="1112.3" x2="934.6" y2="1139.0" stroke="#000" stroke-width="1.9"/>
<line x1="938.3" y1="1112.3" x2="915.9" y2="1127.4" stroke="#000" stroke-width="1.9"/>
<line x1="1013.6" y1="1101.5" x2="1046.0" y2="1161.5" stroke="#000" stroke-width="1.9"/>
<line x1="1046.0" y1="1161.5" x2="1024.6" y2="1145.0" stroke="#000" stroke-width="1.9"/>
<line x1="1046.0" y1="1161.5" x2="1043.9" y2="1134.6" stroke="#000" stroke-width="1.9"/>
<line x1="934.6" y1="1777.6" x2="961.3" y2="1840.7" stroke="#000" stroke-width="1.9"/>
<line x1="961.3" y1="1840.7" x2="941.6" y2="1822.3" stroke="#000" stroke-width="1.9"/>
<line x1="961.3" y1="1840.7" x2="961.8" y2="1813.7" stroke="#000" stroke-width="1.9"/>
<line x1="661.2" y1="924.6" x2="661.2" y2="993.8" stroke="#000" stroke-width="1.9"/>
<line x1="661.2" y1="993.8" x2="650.2" y2="969.1" stroke="#000" stroke-width="1.9"/>
<line x1="661.2" y1="993.8" x2="672.2" y2="969.1" stroke="#000" stroke-width="1.9"/>
<line x1="661.2" y1="1243.5" x2="661.2" y2="1311.8" stroke="#000" stroke-width="1.9"/>
<line x1="661.2" y1="1311.8" x2="650.2" y2="1287.1" stroke="#000" stroke-width="1.9"/>
<line x1="661.2" y1="1311.8" x2="672.2" y2="1287.1" stroke="#000" stroke-width="1.9"/>
<line x1="661.2" y1="1360.0" x2="661.2" y2="1428.2" stroke="#000" stroke-width="1.9"/>
<line x1="661.2" y1="1428.2" x2="650.2" y2="1403.5" stroke="#000" stroke-width="1.9"/>
<line x1="661.2" y1="1428.2" x2="672.2" y2="1403.5" stroke="#000" stroke-width="1.9"/>
<line x1="661.2" y1="1493.8" x2="661.2" y2="1561.4" stroke="#000" stroke-width="1.9"/>
<line x1="661.2" y1="1561.4" x2="650.2" y2="1536.7" stroke="#000" stroke-width="1.9"/>
<line x1="661.2" y1="1561.4" x2="672.2" y2="1536.7" stroke="#000" stroke-width="1.9"/>
<line x1="661.2" y1="1700.0" x2="661.2" y2="1728.0" stroke="#000" stroke-width="1.9"/>
<line x1="661.2" y1="1728.0" x2="650.2" y2="1703.3" stroke="#000" stroke-width="1.9"/>
<line x1="661.2" y1="1728.0" x2="672.2" y2="1703.3" stroke="#000" stroke-width="1.9"/>
<line x1="1060.6" y1="976.8" x2="1060.6" y2="1044.5" stroke="#000" stroke-width="1.9"/>
<line x1="1060.6" y1="1044.5" x2="1049.6" y2="1019.8" stroke="#000" stroke-width="1.9"/>
<line x1="1060.6" y1="1044.5" x2="1071.6" y2="1019.8" stroke="#000" stroke-width="1.9"/>
<line x1="1060.6" y1="1232.2" x2="1060.6" y2="1299.8" stroke="#000" stroke-width="1.9"/>
<line x1="1060.6" y1="1299.8" x2="1049.6" y2="1275.1" stroke="#000" stroke-width="1.9"/>
<line x1="1060.6" y1="1299.8" x2="1071.6" y2="1275.1" stroke="#000" stroke-width="1.9"/>
<line x1="1060.6" y1="1344.3" x2="1060.6" y2="1412.5" stroke="#000" stroke-width="1.9"/>
<line x1="1060.6" y1="1412.5" x2="1049.6" y2="1387.8" stroke="#000" stroke-width="1.9"/>
<line x1="1060.6" y1="1412.5" x2="1071.6" y2="1387.8" stroke="#000" stroke-width="1.9"/>
<line x1="1060.6" y1="1520.8" x2="1060.6" y2="1590.3" stroke="#000" stroke-width="1.9"/>
<line x1="1060.6" y1="1590.3" x2="1049.6" y2="1565.6" stroke="#000" stroke-width="1.9"/>
<line x1="1060.6" y1="1590.3" x2="1071.6" y2="1565.6" stroke="#000" stroke-width="1.9"/>
<line x1="1060.6" y1="1658.8" x2="1060.6" y2="1728.3" stroke="#000" stroke-width="1.9"/>
<line x1="1060.6" y1="1728.3" x2="1049.6" y2="1703.6" stroke="#000" stroke-width="1.9"/>
<line x1="1060.6" y1="1728.3" x2="1071.6" y2="1703.6" stroke="#000" stroke-width="1.9"/>
<line x1="1060.6" y1="1757.8" x2="1060.6" y2="1826.0" stroke="#000" stroke-width="1.9"/>
<line x1="1060.6" y1="1826.0" x2="1049.6" y2="1801.3" stroke="#000" stroke-width="1.9"/>
<line x1="1060.6" y1="1826.0" x2="1071.6" y2="1801.3" stroke="#000" stroke-width="1.9"/>
<line x1="808.5" y1="1480.0" x2="808.5" y2="1547.6" stroke="#000" stroke-width="1.6"/>
<line x1="808.5" y1="1547.6" x2="796.7" y2="1524.4" stroke="#000" stroke-width="1.6"/>
<line x1="808.5" y1="1547.6" x2="820.3" y2="1524.4" stroke="#000" stroke-width="1.6"/>
<line x1="829.1" y1="1133.8" x2="829.1" y2="1093.8" stroke="#000" stroke-width="1.4"/>
<line x1="829.1" y1="1093.8" x2="836.4" y2="1106.4" stroke="#000" stroke-width="1.4"/>
<line x1="829.1" y1="1093.8" x2="821.9" y2="1106.4" stroke="#000" stroke-width="1.4"/>
<line x1="977.6" y1="1607.5" x2="977.6" y2="1639.8" stroke="#000" stroke-width="1.4"/>
<line x1="977.6" y1="1639.8" x2="971.5" y2="1626.1" stroke="#000" stroke-width="1.4"/>
<line x1="977.6" y1="1639.8" x2="983.7" y2="1626.1" stroke="#000" stroke-width="1.4"/>
<line x1="815.3" y1="1877.6" x2="815.3" y2="1945.2" stroke="#000" stroke-width="1.9"/>
<line x1="815.3" y1="1945.2" x2="804.3" y2="1920.5" stroke="#000" stroke-width="1.9"/>
<line x1="815.3" y1="1945.2" x2="826.3" y2="1920.5" stroke="#000" stroke-width="1.9"/>
<line x1="704.7" y1="1076.5" x2="671.8" y2="1161.2" stroke="#000" stroke-width="1.9"/>
<polygon points="671.8,1161.2 678.3,1125.1 691.4,1130.2" fill="#000"/>
<line x1="724.6" y1="1048.2" x2="816.8" y2="1048.2" stroke="#000" stroke-width="1.9"/>
<polygon points="816.8,1048.2 776.8,1054.7 776.8,1041.7" fill="#000"/>
<line x1="660.7" y1="1745.0" x2="660.7" y2="1843.8" stroke="#000" stroke-width="1.9"/>
<polygon points="660.7,1843.8 654.2,1801.8 667.2,1801.8" fill="#000"/>
<text class="ci" x="729.0" y="1069.0" font-size="24" textLength="37.0" lengthAdjust="spacingAndGlyphs">CUT</text>
<text class="ci" x="684.0" y="1799.5" font-size="24" textLength="38.5" lengthAdjust="spacingAndGlyphs" transform="rotate(-90 684 1799.5)">CUT</text>
<line x1="457.0" y1="906.0" x2="470.0" y2="880.0" stroke="#000" stroke-width="1.6"/>
<line x1="474.0" y1="906.0" x2="487.0" y2="880.0" stroke="#000" stroke-width="1.6"/>
<line x1="660.0" y1="906.0" x2="673.0" y2="880.0" stroke="#000" stroke-width="1.6"/>
<line x1="677.0" y1="906.0" x2="690.0" y2="880.0" stroke="#000" stroke-width="1.6"/>
<line x1="843.0" y1="906.0" x2="856.0" y2="880.0" stroke="#000" stroke-width="1.6"/>
<line x1="860.0" y1="906.0" x2="873.0" y2="880.0" stroke="#000" stroke-width="1.6"/>
<line x1="1015.0" y1="906.0" x2="1028.0" y2="880.0" stroke="#000" stroke-width="1.6"/>
<line x1="1032.0" y1="906.0" x2="1045.0" y2="880.0" stroke="#000" stroke-width="1.6"/>
<line x1="634.3" y1="987.0" x2="657.7" y2="1000.4" stroke="#000" stroke-width="1.6"/>
<line x1="634.3" y1="1003.8" x2="657.7" y2="1017.0" stroke="#000" stroke-width="1.6"/>
<line x1="633.6" y1="1133.8" x2="659.7" y2="1147.6" stroke="#000" stroke-width="1.6"/>
<line x1="633.6" y1="1149.2" x2="659.7" y2="1164.5" stroke="#000" stroke-width="1.6"/>
<line x1="1062.7" y1="963.0" x2="1089.5" y2="976.4" stroke="#000" stroke-width="1.6"/>
<line x1="1062.7" y1="979.0" x2="1089.5" y2="993.3" stroke="#000" stroke-width="1.6"/>
<line x1="1062.7" y1="1122.0" x2="1089.5" y2="1135.6" stroke="#000" stroke-width="1.6"/>
<line x1="1062.7" y1="1139.5" x2="1089.5" y2="1153.0" stroke="#000" stroke-width="1.6"/>
<line x1="665.5" y1="1200.0" x2="676.5" y2="1175.0" stroke="#000" stroke-width="1.6"/>
<line x1="678.5" y1="1200.0" x2="689.5" y2="1175.0" stroke="#000" stroke-width="1.6"/>
<line x1="1029.5" y1="1200.0" x2="1040.5" y2="1175.0" stroke="#000" stroke-width="1.6"/>
<line x1="1042.5" y1="1200.0" x2="1053.5" y2="1175.0" stroke="#000" stroke-width="1.6"/>
<line x1="853.0" y1="890.0" x2="860.6" y2="897.6" stroke="#000" stroke-width="1.2"/>
<line x1="853.0" y1="897.6" x2="860.6" y2="890.0" stroke="#000" stroke-width="1.2"/>
<line x1="856.1" y1="899.2" x2="863.7" y2="906.8" stroke="#000" stroke-width="1.2"/>
<line x1="856.1" y1="906.8" x2="863.7" y2="899.2" stroke="#000" stroke-width="1.2"/>
<line x1="854.5" y1="910.0" x2="862.1" y2="917.6" stroke="#000" stroke-width="1.2"/>
<line x1="854.5" y1="917.6" x2="862.1" y2="910.0" stroke="#000" stroke-width="1.2"/>
<line x1="1062.1" y1="896.2" x2="1069.7" y2="903.8" stroke="#000" stroke-width="1.2"/>
<line x1="1062.1" y1="903.8" x2="1069.7" y2="896.2" stroke="#000" stroke-width="1.2"/>
<line x1="1063.6" y1="910.0" x2="1071.2" y2="917.6" stroke="#000" stroke-width="1.2"/>
<line x1="1063.6" y1="917.6" x2="1071.2" y2="910.0" stroke="#000" stroke-width="1.2"/>
<line x1="645.2" y1="910.0" x2="652.8" y2="917.6" stroke="#000" stroke-width="1.2"/>
<line x1="645.2" y1="917.6" x2="652.8" y2="910.0" stroke="#000" stroke-width="1.2"/>
<line x1="1079.0" y1="1260.2" x2="1086.6" y2="1267.8" stroke="#000" stroke-width="1.2"/>
<line x1="1079.0" y1="1267.8" x2="1086.6" y2="1260.2" stroke="#000" stroke-width="1.2"/>
<line x1="850.5" y1="1665.2" x2="858.1" y2="1672.8" stroke="#000" stroke-width="1.2"/>
<line x1="850.5" y1="1672.8" x2="858.1" y2="1665.2" stroke="#000" stroke-width="1.2"/>
<line x1="1079.0" y1="1660.4" x2="1086.6" y2="1668.0" stroke="#000" stroke-width="1.2"/>
<line x1="1079.0" y1="1668.0" x2="1086.6" y2="1660.4" stroke="#000" stroke-width="1.2"/>
<line x1="646.8" y1="1256.2" x2="654.4" y2="1263.8" stroke="#000" stroke-width="1.2"/>
<line x1="646.8" y1="1263.8" x2="654.4" y2="1256.2" stroke="#000" stroke-width="1.2"/>
<line x1="639.2" y1="1959.7" x2="646.8" y2="1967.3" stroke="#000" stroke-width="1.2"/>
<line x1="639.2" y1="1967.3" x2="646.8" y2="1959.7" stroke="#000" stroke-width="1.2"/>
<line x1="639.2" y1="1967.7" x2="646.8" y2="1975.3" stroke="#000" stroke-width="1.2"/>
<line x1="639.2" y1="1975.3" x2="646.8" y2="1967.7" stroke="#000" stroke-width="1.2"/>
<line x1="841.7" y1="1959.7" x2="849.3" y2="1967.3" stroke="#000" stroke-width="1.2"/>
<line x1="841.7" y1="1967.3" x2="849.3" y2="1959.7" stroke="#000" stroke-width="1.2"/>
<line x1="841.7" y1="1967.7" x2="849.3" y2="1975.3" stroke="#000" stroke-width="1.2"/>
<line x1="841.7" y1="1975.3" x2="849.3" y2="1967.7" stroke="#000" stroke-width="1.2"/>
<line x1="1066.2" y1="1959.7" x2="1073.8" y2="1967.3" stroke="#000" stroke-width="1.2"/>
<line x1="1066.2" y1="1967.3" x2="1073.8" y2="1959.7" stroke="#000" stroke-width="1.2"/>
<line x1="1066.2" y1="1967.7" x2="1073.8" y2="1975.3" stroke="#000" stroke-width="1.2"/>
<line x1="1066.2" y1="1975.3" x2="1073.8" y2="1967.7" stroke="#000" stroke-width="1.2"/>
<line x1="854.2" y1="848.2" x2="861.8" y2="855.8" stroke="#000" stroke-width="1.2"/>
<line x1="854.2" y1="855.8" x2="861.8" y2="848.2" stroke="#000" stroke-width="1.2"/>
<text class="s0" x="582.0" y="856.6" font-size="15" textLength="51.4" lengthAdjust="spacingAndGlyphs">996.26</text>
<text class="s0" x="797.5" y="856.6" font-size="15" textLength="50.5" lengthAdjust="spacingAndGlyphs">995.45</text>
<text class="s0" x="1089.5" y="852.1" font-size="15" textLength="50.8" lengthAdjust="spacingAndGlyphs">994.57</text>
<text class="s0" x="663.5" y="877.4" font-size="15" textLength="50.9" lengthAdjust="spacingAndGlyphs">996.23</text>
<text class="s0" x="796.7" y="886.7" font-size="15" textLength="51.3" lengthAdjust="spacingAndGlyphs">995.43</text>
<text class="s0" x="1090.8" y="878.3" font-size="15" textLength="50.8" lengthAdjust="spacingAndGlyphs">994.67</text>
<path d="M663,880 C656,882 652,886 649,893" stroke="#000" stroke-width="1.1" fill="none"/>
<path d="M1091,882 C1085,884 1081,888 1078,893" stroke="#000" stroke-width="1.1" fill="none"/>
<text class="s0" x="276.7" y="881.0" font-size="16.5" textLength="112.0" lengthAdjust="spacingAndGlyphs">EXISIING  BRICK</text>
<text class="s0" x="272.7" y="899.5" font-size="16.5" textLength="117.0" lengthAdjust="spacingAndGlyphs">RETAINING  WALL</text>
<line x1="389.7" y1="896.0" x2="440.0" y2="900.0" stroke="#000" stroke-width="1.1"/>
<polygon points="452.0,901.0 435.8,903.4 436.3,896.4" fill="#000"/>
<text class="s0" x="305.0" y="980.4" font-size="16.5" textLength="92.0" lengthAdjust="spacingAndGlyphs">15’  BUILDING</text>
<text class="s0" x="298.4" y="999.4" font-size="16.5" textLength="103.6" lengthAdjust="spacingAndGlyphs">SETBACK  LINE</text>
<path d="M402,994 C420,993 432,1000 445,1008" stroke="#000" stroke-width="1.1" fill="none"/>
<polygon points="454.0,1011.7 438.9,1008.5 441.9,1002.2" fill="#000"/>
<text class="s0" x="516.5" y="1165.9" font-size="16" textLength="122.4" lengthAdjust="spacingAndGlyphs" transform="rotate(-90 516.5 1165.9)">5’  MAINTENANCE</text>
<text class="s0" x="536.5" y="1185.9" font-size="16" textLength="158.9" lengthAdjust="spacingAndGlyphs" transform="rotate(-90 536.5 1185.9)">&amp;  ACCESS  EASEMENT</text>
<path d="M529.4,1027 V1010.6 C535,990 560,985 641,970.3" stroke="#000" stroke-width="1.1" fill="none"/>
<polygon points="645.0,969.6 629.6,975.3 628.7,968.4" fill="#000"/>
<path d="M529.4,1010.6 L580,1022" stroke="#000" stroke-width="1.1" fill="none"/>
<polygon points="595.3,1025.9 577.9,1025.5 579.5,1018.7" fill="#000"/>
<text class="s0" x="614.0" y="963.0" font-size="14" textLength="54.0" lengthAdjust="spacingAndGlyphs" transform="rotate(-54 614 963)">992.24</text>
<text class="s0" x="672.0" y="963.0" font-size="14" textLength="56.0" lengthAdjust="spacingAndGlyphs" transform="rotate(-54 672 963)">T.O.W.=</text>
<text class="s0" x="689.5" y="964.0" font-size="14" textLength="56.0" lengthAdjust="spacingAndGlyphs" transform="rotate(-54 689.5 964)">996.66</text>
<text class="s0" x="847.0" y="962.0" font-size="14" textLength="54.0" lengthAdjust="spacingAndGlyphs" transform="rotate(-54 847 962)">991.20</text>
<text class="s0" x="872.5" y="959.0" font-size="14" textLength="56.0" lengthAdjust="spacingAndGlyphs" transform="rotate(-54 872.5 959)">T.O.W.=</text>
<text class="s0" x="890.0" y="961.0" font-size="14" textLength="56.0" lengthAdjust="spacingAndGlyphs" transform="rotate(-54 890 961)">996.01</text>
<text class="s0" x="1042.0" y="967.0" font-size="14" textLength="52.0" lengthAdjust="spacingAndGlyphs" transform="rotate(-54 1042 967)">990.99</text>
<line x1="1067.0" y1="907.2" x2="1074.0" y2="914.2" stroke="#000" stroke-width="1.2"/>
<line x1="1067.0" y1="914.2" x2="1074.0" y2="907.2" stroke="#000" stroke-width="1.2"/>
<text class="s0" x="1099.5" y="958.0" font-size="14" textLength="56.0" lengthAdjust="spacingAndGlyphs" transform="rotate(-54 1099.5 958)">T.O.W.=</text>
<text class="s0" x="1116.0" y="961.0" font-size="14" textLength="56.0" lengthAdjust="spacingAndGlyphs" transform="rotate(-54 1116 961)">995.35</text>
<text class="s0" x="610.5" y="1306.0" font-size="14" textLength="53.0" lengthAdjust="spacingAndGlyphs" transform="rotate(-54 610.5 1306)">990.44</text>
<text class="s0" x="1095.5" y="1272.0" font-size="14" textLength="54.0" lengthAdjust="spacingAndGlyphs" transform="rotate(-54 1095.5 1272)">989.30</text>
<text class="s0" x="612.5" y="1713.6" font-size="14" textLength="54.0" lengthAdjust="spacingAndGlyphs" transform="rotate(-54 612.5 1713.6)">988.52</text>
<text class="s0" x="627.0" y="2022.5" font-size="14" textLength="53.0" lengthAdjust="spacingAndGlyphs" transform="rotate(-54 627 2022.5)">T.O.C.=</text>
<text class="s0" x="646.0" y="2022.0" font-size="14" textLength="53.0" lengthAdjust="spacingAndGlyphs" transform="rotate(-54 646 2022)">987.18</text>
<text class="s0" x="661.0" y="2023.5" font-size="14" textLength="44.0" lengthAdjust="spacingAndGlyphs" transform="rotate(-54 661 2023.5)">GUT.=</text>
<text class="s0" x="675.0" y="2024.0" font-size="14" textLength="53.0" lengthAdjust="spacingAndGlyphs" transform="rotate(-54 675 2024)">986.66</text>
<text class="s0" x="842.6" y="2022.5" font-size="14" textLength="53.0" lengthAdjust="spacingAndGlyphs" transform="rotate(-54 842.6 2022.5)">T.O.C.=</text>
<text class="s0" x="861.6" y="2022.0" font-size="14" textLength="53.0" lengthAdjust="spacingAndGlyphs" transform="rotate(-54 861.6 2022)">986.67</text>
<text class="s0" x="876.6" y="2023.5" font-size="14" textLength="44.0" lengthAdjust="spacingAndGlyphs" transform="rotate(-54 876.6 2023.5)">GUT.=</text>
<text class="s0" x="890.6" y="2024.0" font-size="14" textLength="53.0" lengthAdjust="spacingAndGlyphs" transform="rotate(-54 890.6 2024)">986.12</text>
<text class="s0" x="1053.2" y="2022.5" font-size="14" textLength="53.0" lengthAdjust="spacingAndGlyphs" transform="rotate(-54 1053.2 2022.5)">T.O.C.=</text>
<text class="s0" x="1072.2" y="2022.0" font-size="14" textLength="53.0" lengthAdjust="spacingAndGlyphs" transform="rotate(-54 1072.2 2022)">986.10</text>
<text class="s0" x="1087.2" y="2023.5" font-size="14" textLength="44.0" lengthAdjust="spacingAndGlyphs" transform="rotate(-54 1087.2 2023.5)">GUT.=</text>
<text class="s0" x="1101.2" y="2024.0" font-size="14" textLength="53.0" lengthAdjust="spacingAndGlyphs" transform="rotate(-54 1101.2 2024)">985.56</text>
<path d="M383.9,1092.3 L424.5,1092.3 L443.9,1126.7 L424.5,1161.5 L383.9,1161.5 L363.6,1126.7 Z" stroke="#000" stroke-width="1.7" fill="none"/>
<line x1="363.6" y1="1126.7" x2="443.9" y2="1126.7" stroke="#000" stroke-width="1.7"/>
<text class="s" x="403.8" y="1120.0" font-size="23" text-anchor="middle" textLength="26.0" lengthAdjust="spacingAndGlyphs">17</text>
<text class="s" x="403.8" y="1152.3" font-size="23" text-anchor="middle" textLength="13.0" lengthAdjust="spacingAndGlyphs">8</text>
<path d="M380,1489.2 L420,1489.2 L440,1524 L420,1559 L380,1559 L360,1524 Z" stroke="#000" stroke-width="1.7" fill="none"/>
<line x1="360.0" y1="1524.0" x2="440.0" y2="1524.0" stroke="#000" stroke-width="1.7"/>
<text class="s" x="400.0" y="1516.8" font-size="23" text-anchor="middle" textLength="27.7" lengthAdjust="spacingAndGlyphs">42</text>
<text class="s" x="400.0" y="1550.0" font-size="23" text-anchor="middle" textLength="27.7" lengthAdjust="spacingAndGlyphs">30</text>
<path d="M1331.4,1109.6 L1372.9,1109.6 L1392.4,1144 L1372.9,1178.3 L1331.4,1178.3 L1312.7,1144 Z" stroke="#000" stroke-width="1.7" fill="none"/>
<line x1="1312.7" y1="1144.0" x2="1392.4" y2="1144.0" stroke="#000" stroke-width="1.7"/>
<text class="s" x="1352.6" y="1136.8" font-size="23" text-anchor="middle" textLength="28.2" lengthAdjust="spacingAndGlyphs">26</text>
<text class="s" x="1352.6" y="1169.7" font-size="23" text-anchor="middle" textLength="28.2" lengthAdjust="spacingAndGlyphs">20</text>
<path d="M1330,1586.8 L1371.6,1586.8 L1391.6,1621.4 L1371.6,1655.6 L1330,1655.6 L1311.4,1621.4 Z" stroke="#000" stroke-width="1.7" fill="none"/>
<line x1="1311.4" y1="1621.4" x2="1391.6" y2="1621.4" stroke="#000" stroke-width="1.7"/>
<text class="s" x="1351.5" y="1613.4" font-size="23" text-anchor="middle" textLength="29.0" lengthAdjust="spacingAndGlyphs">54</text>
<text class="s" x="1351.5" y="1647.6" font-size="23" text-anchor="middle" textLength="29.0" lengthAdjust="spacingAndGlyphs">42</text>
<text class="s" x="339.0" y="1186.7" font-size="23" textLength="100.0" lengthAdjust="spacingAndGlyphs">E=990.6</text>
<text class="s" x="339.0" y="1209.8" font-size="23" textLength="100.0" lengthAdjust="spacingAndGlyphs">F=991.3</text>
<text class="s" x="334.7" y="1583.9" font-size="23" textLength="100.0" lengthAdjust="spacingAndGlyphs">E=988.5</text>
<text class="s" x="334.7" y="1607.5" font-size="23" textLength="100.0" lengthAdjust="spacingAndGlyphs">F=989.5</text>
<text class="s" x="1287.3" y="1203.7" font-size="23" textLength="100.0" lengthAdjust="spacingAndGlyphs">E=989.8</text>
<text class="s" x="1287.3" y="1227.8" font-size="23" textLength="100.0" lengthAdjust="spacingAndGlyphs">F=990.3</text>
<text class="s" x="1286.0" y="1680.2" font-size="23" textLength="100.0" lengthAdjust="spacingAndGlyphs">E=987.5</text>
<text class="s" x="1286.0" y="1704.3" font-size="23" textLength="100.0" lengthAdjust="spacingAndGlyphs">F=988.5</text>
<text class="st" x="282.0" y="1295.2" font-size="33" textLength="106.0" lengthAdjust="spacingAndGlyphs">LOT  4</text>
<text class="si" x="260.0" y="1353.7" font-size="42" textLength="149.0" lengthAdjust="spacingAndGlyphs">BLOCK</text>
<text class="si" x="270.7" y="1406.1" font-size="42" textLength="132.0" lengthAdjust="spacingAndGlyphs">N.C.B.</text>
<text class="st" x="1300.7" y="1296.2" font-size="33" textLength="103.3" lengthAdjust="spacingAndGlyphs">LOT  6</text>
<text class="sri" x="1342.0" y="1352.4" font-size="39" textLength="24.2" lengthAdjust="spacingAndGlyphs">5</text>
<text class="sri" x="1291.3" y="1405.8" font-size="39" textLength="126.0" lengthAdjust="spacingAndGlyphs">18231</text>
<text class="st" x="531.8" y="1493.0" font-size="34" textLength="270.6" lengthAdjust="spacingAndGlyphs" transform="rotate(-90 531.8 1493)">S 89°30’52”  W</text>
<text class="st" x="577.6" y="1509.4" font-size="34" textLength="296.4" lengthAdjust="spacingAndGlyphs" transform="rotate(-90 577.6 1509.4)">100.00’ (F  &amp;  P)</text>
<text class="st" x="1126.9" y="1541.0" font-size="34" textLength="259.5" lengthAdjust="spacingAndGlyphs" transform="rotate(-90 1126.9 1541)">N 89°30’52”  E</text>
<text class="st" x="1171.0" y="1559.6" font-size="34" textLength="296.8" lengthAdjust="spacingAndGlyphs" transform="rotate(-90 1171 1559.6)">100.00’ (F  &amp;  P)</text>
<text class="s0" x="304.6" y="1630.6" font-size="16.5" textLength="93.8" lengthAdjust="spacingAndGlyphs">20’  BUILDING</text>
<text class="s0" x="298.4" y="1649.7" font-size="16.5" textLength="102.4" lengthAdjust="spacingAndGlyphs">SETBACK  LINE</text>
<path d="M403,1643 C420,1643 432,1650 442,1657" stroke="#000" stroke-width="1.1" fill="none"/>
<polygon points="452.0,1661.4 437.1,1657.4 440.4,1651.3" fill="#000"/>
<text class="s0" x="527.5" y="1684.4" font-size="16.5" textLength="36.9" lengthAdjust="spacingAndGlyphs">CATV</text>
<text class="s0" x="510.6" y="1702.3" font-size="16.5" textLength="67.7" lengthAdjust="spacingAndGlyphs">PEDESTAL</text>
<path d="M579.8,1696 L596.7,1699.2 L619,1741" stroke="#000" stroke-width="1.1" fill="none"/>
<polygon points="621.0,1744.0 612.1,1734.0 617.7,1731.0" fill="#000"/>
<text class="s0" x="519.8" y="1729.0" font-size="16.5" textLength="36.0" lengthAdjust="spacingAndGlyphs">TELE.</text>
<text class="s0" x="501.4" y="1748.4" font-size="16.5" textLength="69.2" lengthAdjust="spacingAndGlyphs">PEDESTAL</text>
<path d="M570.6,1742.5 L580,1742.5 L606,1767" stroke="#000" stroke-width="1.1" fill="none"/>
<polygon points="609.0,1770.0 597.3,1763.5 601.7,1758.8" fill="#000"/>
<circle cx="622.8" cy="1748.0" r="6.2" fill="none" stroke="#000" stroke-width="1.6"/>
<circle cx="611.2" cy="1772.5" r="6.2" fill="none" stroke="#000" stroke-width="1.6"/>
<text class="s0" x="261.0" y="1807.8" font-size="16.5" textLength="159.0" lengthAdjust="spacingAndGlyphs">10’  ELEC.,  GAS,  TELE.</text>
<text class="s0" x="269.2" y="1827.5" font-size="16.5" textLength="139.8" lengthAdjust="spacingAndGlyphs">&amp;  CATV  EASEMENT</text>
<path d="M409,1819 C416,1819 420,1815 423,1810 L450,1772" stroke="#000" stroke-width="1.1" fill="none"/>
<polygon points="455.3,1763.0 451.1,1776.7 445.5,1773.5" fill="#000"/>
<path d="M420,1819 C424,1822 428,1830 431,1836 L449,1852" stroke="#000" stroke-width="1.1" fill="none"/>
<polygon points="455.3,1860.0 443.6,1851.7 448.3,1847.5" fill="#000"/>
<text class="s0" x="518.3" y="1819.0" font-size="16.5" textLength="37.5" lengthAdjust="spacingAndGlyphs">ELEC.</text>
<text class="s0" x="523.5" y="1837.6" font-size="16.5" textLength="27.7" lengthAdjust="spacingAndGlyphs">BOX</text>
<line x1="555.0" y1="1831.0" x2="585.0" y2="1829.5" stroke="#000" stroke-width="1.1"/>
<polygon points="596.0,1829.3 582.2,1833.5 581.8,1826.5" fill="#000"/>
<rect x="595.2" y="1822.8" width="15.3" height="10.8" stroke="#000" stroke-width="1.5" fill="none"/>
<text class="s0" x="584.4" y="1853.6" font-size="15" textLength="50.7" lengthAdjust="spacingAndGlyphs">987.52</text>
<text class="s0" x="829.0" y="1660.4" font-size="15" textLength="52.4" lengthAdjust="spacingAndGlyphs">987.92</text>
<text class="s0" x="800.0" y="1715.2" font-size="16.5" textLength="32.0" lengthAdjust="spacingAndGlyphs">16.3’</text>
<text class="s0" x="794.7" y="1732.4" font-size="16.5" textLength="41.5" lengthAdjust="spacingAndGlyphs">CONC.</text>
<text class="s0" x="795.3" y="1750.6" font-size="16.5" textLength="40.0" lengthAdjust="spacingAndGlyphs">DRIVE</text>
<text class="s0" x="953.6" y="1734.6" font-size="16.5" textLength="63.1" lengthAdjust="spacingAndGlyphs">4’  CONC.</text>
<text class="s0" x="967.5" y="1750.0" font-size="16.5" textLength="35.3" lengthAdjust="spacingAndGlyphs">WALK</text>
<path d="M953,1728.5 L935,1728.5 C930,1728 927.7,1722 927.7,1715" stroke="#000" stroke-width="1.1" fill="none"/>
<text class="s0" x="970.6" y="1689.0" font-size="16.5" textLength="58.4" lengthAdjust="spacingAndGlyphs">(3)7½”</text>
<text class="s0" x="970.6" y="1709.0" font-size="16.5" textLength="57.4" lengthAdjust="spacingAndGlyphs">DROPS</text>
<path d="M970.6,1684.4 C962,1684 956,1680 947,1675" stroke="#000" stroke-width="1.1" fill="none"/>
<polygon points="928.4,1663.2 947.4,1670.6 943.3,1677.0" fill="#000"/>
<line x1="904.5" y1="1666.0" x2="953.6" y2="1666.0" stroke="#000" stroke-width="1.5"/>
<line x1="904.5" y1="1676.7" x2="953.6" y2="1676.7" stroke="#000" stroke-width="1.5"/>
<path d="M904.6,1658 C899,1676 896.8,1690 896.8,1702 V1861.3" stroke="#000" stroke-width="2" fill="none"/>
<line x1="953.6" y1="1657.0" x2="953.6" y2="1717.0" stroke="#000" stroke-width="2"/>
<line x1="896.8" y1="1716.5" x2="953.6" y2="1716.5" stroke="#000" stroke-width="2"/>
<line x1="927.7" y1="1697.0" x2="927.7" y2="1720.0" stroke="#000" stroke-width="1.3"/>
<polygon points="927.7,1678.0 931.5,1697.0 923.9,1697.0" fill="#000"/>
<line x1="733.8" y1="1623.0" x2="733.8" y2="1861.3" stroke="#000" stroke-width="2"/>
<line x1="733.8" y1="1861.3" x2="713.8" y2="1971.4" stroke="#000" stroke-width="2"/>
<line x1="896.8" y1="1861.3" x2="916.8" y2="1971.4" stroke="#000" stroke-width="2"/>
<line x1="718.4" y1="1623.0" x2="718.4" y2="1750.0" stroke="#000" stroke-width="1.2"/>
<line x1="718.4" y1="1797.0" x2="718.4" y2="1923.7" stroke="#000" stroke-width="1.2"/>
<polygon points="718.4,1623.0 722.2,1641.0 714.6,1641.0" fill="#000"/>
<polygon points="718.4,1923.7 714.6,1905.7 722.2,1905.7" fill="#000"/>
<text class="s0" x="723.0" y="1794.5" font-size="16.5" textLength="43.0" lengthAdjust="spacingAndGlyphs" transform="rotate(-90 723 1794.5)">30.0’</text>
<text class="s0" x="756.9" y="1810.0" font-size="16.5" textLength="38.0" lengthAdjust="spacingAndGlyphs" transform="rotate(-90 756.9 1810)">11.1%</text>
<text class="s0" x="778.4" y="1814.5" font-size="16.5" textLength="43.0" lengthAdjust="spacingAndGlyphs" transform="rotate(-90 778.4 1814.5)">SLOPE</text>
<text class="s0" x="861.4" y="1810.0" font-size="16.5" textLength="38.0" lengthAdjust="spacingAndGlyphs" transform="rotate(-90 861.4 1810)">12.1%</text>
<text class="s0" x="881.4" y="1814.5" font-size="16.5" textLength="43.0" lengthAdjust="spacingAndGlyphs" transform="rotate(-90 881.4 1814.5)">SLOPE</text>
<path d="M759.9,1771.5 V1837.6 L751.3,1820.7 H759.9" stroke="#000" stroke-width="1.5" fill="none"/>
<path d="M864.5,1771.5 V1837.6 L855.3,1820.7 H864.5" stroke="#000" stroke-width="1.5" fill="none"/>
<text class="s0" x="806.0" y="1853.0" font-size="15" textLength="49.2" lengthAdjust="spacingAndGlyphs">987.08</text>
<line x1="645.3" y1="1923.7" x2="721.5" y2="1923.7" stroke="#000" stroke-width="2"/>
<line x1="909.0" y1="1923.7" x2="1076.6" y2="1923.7" stroke="#000" stroke-width="2"/>
<line x1="642.0" y1="1963.5" x2="1076.6" y2="1963.5" stroke="#000" stroke-width="2.2"/>
<line x1="642.0" y1="1971.5" x2="1076.6" y2="1971.5" stroke="#000" stroke-width="2.2"/>
<text class="s0" x="944.4" y="1949.8" font-size="16.5" textLength="109.2" lengthAdjust="spacingAndGlyphs">4’  CONC.  WALK</text>
<text class="s0" x="982.0" y="1988.3" font-size="16.5" textLength="36.8" lengthAdjust="spacingAndGlyphs">CURB</text>
<text class="s0" x="1085.5" y="1680.2" font-size="15" textLength="51.3" lengthAdjust="spacingAndGlyphs">987.30</text>
<text class="s0" x="1117.5" y="1699.5" font-size="16.5" textLength="36.1" lengthAdjust="spacingAndGlyphs">CATV</text>
<text class="s0" x="1100.2" y="1718.2" font-size="16.5" textLength="70.8" lengthAdjust="spacingAndGlyphs">PEDESTAL</text>
<text class="s0" x="1100.2" y="1738.5" font-size="16.5" textLength="73.5" lengthAdjust="spacingAndGlyphs">SPECTRUM</text>
<text class="s0" x="1123.4" y="1757.2" font-size="16.5" textLength="27.6" lengthAdjust="spacingAndGlyphs">BOX</text>
<text class="s0" x="1102.8" y="1784.5" font-size="16.5" textLength="49.5" lengthAdjust="spacingAndGlyphs">A.T.&amp;T.</text>
<text class="s0" x="1112.7" y="1801.0" font-size="16.5" textLength="28.3" lengthAdjust="spacingAndGlyphs">BOX</text>
<text class="s0" x="1100.2" y="1835.3" font-size="16.5" textLength="101.6" lengthAdjust="spacingAndGlyphs">TRANSFORMER</text>
<text class="s0" x="1115.7" y="1852.7" font-size="16.5" textLength="70.8" lengthAdjust="spacingAndGlyphs">ON  CONC.</text>
<text class="s0" x="1087.6" y="1882.1" font-size="15" textLength="50.8" lengthAdjust="spacingAndGlyphs">986.70</text>
<text class="sb" x="1043.4" y="1898.1" font-size="15" textLength="28.6" lengthAdjust="spacingAndGlyphs">WM.</text>
<path d="M1040,1866 V1886 L1072,1866 V1886 Z" stroke="#000" stroke-width="1.6" fill="none"/>
<rect x="1003.8" y="1808.4" width="40.6" height="40.9" stroke="#000" stroke-width="2" fill="none"/>
<rect x="1034.5" y="1777.6" width="10.8" height="9.3" stroke="#000" stroke-width="1.5" fill="none"/>
<rect x="1000.7" y="1763.2" width="31.3" height="19.7" stroke="#000" stroke-width="2" fill="none"/>
<circle cx="1043.4" cy="1748.0" r="6.5" fill="none" stroke="#000" stroke-width="1.6"/>
<path d="M1116,1694.5 C1090,1694 1070,1715 1058,1735" stroke="#000" stroke-width="1.1" fill="none"/>
<polygon points="1049.0,1743.0 1057.5,1731.3 1062.0,1736.7" fill="#000"/>
<path d="M1100,1733.5 C1072,1733 1050,1752 1028,1770" stroke="#000" stroke-width="1.1" fill="none"/>
<polygon points="1018.0,1776.0 1028.0,1765.6 1031.7,1771.5" fill="#000"/>
<line x1="1101.5" y1="1778.6" x2="1060.0" y2="1781.5" stroke="#000" stroke-width="1.1"/>
<polygon points="1046.0,1782.0 1059.9,1778.0 1060.1,1785.0" fill="#000"/>
<line x1="1097.5" y1="1829.4" x2="1060.0" y2="1828.5" stroke="#000" stroke-width="1.1"/>
<polygon points="1044.4,1828.5 1058.4,1825.0 1058.4,1832.0" fill="#000"/>
<text class="st" x="591.3" y="2060.3" font-size="33" textLength="541.0" lengthAdjust="spacingAndGlyphs">S 0°29’08”  E 43.00’  (F  &amp;  P)</text>
<text class="st" x="708.4" y="2099.2" font-size="33" textLength="307.0" lengthAdjust="spacingAndGlyphs">ROSEMONT  PASS</text>
<line x1="644.2" y1="2112.5" x2="824.7" y2="2112.5" stroke="#000" stroke-width="2"/>
<line x1="848.8" y1="2112.5" x2="874.9" y2="2112.5" stroke="#000" stroke-width="2"/>
<line x1="899.0" y1="2112.5" x2="1077.5" y2="2112.5" stroke="#000" stroke-width="2"/>
<text class="s" x="726.5" y="2143.3" font-size="23" textLength="271.0" lengthAdjust="spacingAndGlyphs">(50’  PRIVATE  STREET)</text>
<text class="s" x="736.5" y="2172.6" font-size="23" textLength="251.0" lengthAdjust="spacingAndGlyphs">(LOT  999,  BLOCK  1)</text>
<line x1="54.7" y1="2152.7" x2="415.7" y2="2152.7" stroke="#000" stroke-width="2.2"/>
<line x1="54.7" y1="2183.4" x2="415.7" y2="2183.4" stroke="#000" stroke-width="2"/>
<line x1="415.7" y1="2152.7" x2="415.7" y2="2742.0" stroke="#000" stroke-width="1.8"/>
<line x1="284.7" y1="2183.4" x2="284.7" y2="2742" stroke="#808080" stroke-width="2.4"/>
<line x1="48" y1="2183.4" x2="417" y2="2183.4" stroke="#808080" stroke-width="2.2"/>
<line x1="48" y1="2214.7" x2="417" y2="2214.7" stroke="#808080" stroke-width="2.2"/>
<line x1="48" y1="2246.0" x2="417" y2="2246.0" stroke="#808080" stroke-width="2.2"/>
<line x1="48" y1="2277.3" x2="417" y2="2277.3" stroke="#808080" stroke-width="2.2"/>
<line x1="48" y1="2308.6" x2="417" y2="2308.6" stroke="#808080" stroke-width="2.2"/>
<line x1="48" y1="2339.9" x2="417" y2="2339.9" stroke="#808080" stroke-width="2.2"/>
<line x1="48" y1="2371.2" x2="417" y2="2371.2" stroke="#808080" stroke-width="2.2"/>
<line x1="48" y1="2402.5" x2="417" y2="2402.5" stroke="#808080" stroke-width="2.2"/>
<line x1="48" y1="2433.8" x2="417" y2="2433.8" stroke="#808080" stroke-width="2.2"/>
<line x1="48" y1="2465.1" x2="417" y2="2465.1" stroke="#808080" stroke-width="2.2"/>
<line x1="48" y1="2496.4" x2="417" y2="2496.4" stroke="#808080" stroke-width="2.2"/>
<line x1="48" y1="2527.7" x2="417" y2="2527.7" stroke="#808080" stroke-width="2.2"/>
<line x1="48" y1="2559.0" x2="417" y2="2559.0" stroke="#808080" stroke-width="2.2"/>
<line x1="48" y1="2590.3" x2="417" y2="2590.3" stroke="#808080" stroke-width="2.2"/>
<line x1="48" y1="2621.6" x2="417" y2="2621.6" stroke="#808080" stroke-width="2.2"/>
<line x1="48" y1="2652.9" x2="417" y2="2652.9" stroke="#808080" stroke-width="2.2"/>
<line x1="48" y1="2684.2" x2="417" y2="2684.2" stroke="#808080" stroke-width="2.2"/>
<line x1="48" y1="2715.5" x2="417" y2="2715.5" stroke="#808080" stroke-width="2.2"/>
<text x="179" y="2175.4" font-size="25" textLength="112" lengthAdjust="spacing" class="s" style="fill:#fff;stroke:#000;stroke-width:1.1;font-family:Liberation Sans">AREAS</text>
<text class="s" x="64.6" y="2207.5" font-size="24" textLength="95.7" lengthAdjust="spacingAndGlyphs">DRIVEWAY</text>
<text class="s" x="305.5" y="2207.5" font-size="24" textLength="106.2" lengthAdjust="spacingAndGlyphs">393 SQ. FT.</text>
<text class="s" x="64.6" y="2238.8" font-size="24" textLength="101.6" lengthAdjust="spacingAndGlyphs">APPROACH</text>
<text class="s" x="305.5" y="2238.8" font-size="24" textLength="106.2" lengthAdjust="spacingAndGlyphs">201 SQ. FT.</text>
<text class="s" x="64.6" y="2270.1" font-size="24" textLength="108.3" lengthAdjust="spacingAndGlyphs">LEAD WALK</text>
<text class="s" x="318.0" y="2270.1" font-size="24" textLength="93.7" lengthAdjust="spacingAndGlyphs">33 SQ. FT.</text>
<text class="s" x="64.6" y="2301.4" font-size="24" textLength="128.4" lengthAdjust="spacingAndGlyphs">PUBLIC WALK</text>
<text class="s" x="318.0" y="2301.4" font-size="24" textLength="93.7" lengthAdjust="spacingAndGlyphs">95 SQ. FT.</text>
<text class="s" x="64.6" y="2332.7" font-size="24" textLength="52.9" lengthAdjust="spacingAndGlyphs">PATIO</text>
<text class="s" x="380.9" y="2332.7" font-size="24" textLength="30.8" lengthAdjust="spacingAndGlyphs">N/A</text>
<text class="s" x="64.6" y="2364.0" font-size="24" textLength="107.8" lengthAdjust="spacingAndGlyphs">HVAC PADS</text>
<text class="s" x="319.4" y="2364.0" font-size="24" textLength="92.3" lengthAdjust="spacingAndGlyphs">16 SQ. FT.</text>
<text class="s" x="64.6" y="2395.3" font-size="24" textLength="57.0" lengthAdjust="spacingAndGlyphs">TOTAL</text>
<text class="s" x="305.5" y="2395.3" font-size="24" textLength="106.2" lengthAdjust="spacingAndGlyphs">738 SQ. FT.</text>
<text class="s" x="64.6" y="2457.9" font-size="24" textLength="107.8" lengthAdjust="spacingAndGlyphs">FRONT SOD</text>
<text class="s" x="306.6" y="2457.9" font-size="24" textLength="105.1" lengthAdjust="spacingAndGlyphs">146SQ. YD.</text>
<text class="s" x="64.6" y="2489.2" font-size="24" textLength="94.4" lengthAdjust="spacingAndGlyphs">REAR SOD</text>
<text class="s" x="306.6" y="2489.2" font-size="24" textLength="105.1" lengthAdjust="spacingAndGlyphs">145SQ. YD.</text>
<text class="s" x="64.6" y="2551.8" font-size="24" textLength="124.6" lengthAdjust="spacingAndGlyphs">TOTAL FENCE</text>
<text class="s" x="318.0" y="2551.8" font-size="24" textLength="93.7" lengthAdjust="spacingAndGlyphs">73 LN. FT.</text>
<text class="s" x="64.6" y="2614.4" font-size="24" textLength="191.4" lengthAdjust="spacingAndGlyphs">AVERAGE EXPOSURE</text>
<text class="s" x="382.2" y="2614.4" font-size="24" textLength="29.5" lengthAdjust="spacingAndGlyphs">35”</text>
<text class="s" x="64.6" y="2645.7" font-size="24" textLength="121.1" lengthAdjust="spacingAndGlyphs">DRIVE SLOPE</text>
<text class="s" x="356.8" y="2645.7" font-size="24" textLength="54.9" lengthAdjust="spacingAndGlyphs">12.1%</text>
<text class="s" x="64.6" y="2677.0" font-size="24" textLength="101.6" lengthAdjust="spacingAndGlyphs">SLAB AREA</text>
<text class="s" x="288.7" y="2677.0" font-size="24" textLength="123.0" lengthAdjust="spacingAndGlyphs">1,399 SQ. FT.</text>
<text class="s" x="64.6" y="2708.3" font-size="24" textLength="89.0" lengthAdjust="spacingAndGlyphs">LOT AREA</text>
<text class="s" x="288.7" y="2708.3" font-size="24" textLength="123.0" lengthAdjust="spacingAndGlyphs">4,300 SQ. FT.</text>
<text class="nt" x="702.0" y="2460.1" font-size="22" textLength="192.2" lengthAdjust="spacingAndGlyphs">SITE PLAN OF</text>
<text class="nt" x="638.5" y="2486.1" font-size="22" textLength="319.2" lengthAdjust="spacingAndGlyphs">10607 ROSEMONT PASS</text>
<text class="nt" x="688.7" y="2512.9" font-size="22" textLength="218.9" lengthAdjust="spacingAndGlyphs">LOT 5, BLOCK 5</text>
<text class="nt" x="638.5" y="2539.6" font-size="22" textLength="322.5" lengthAdjust="spacingAndGlyphs">NEW CITY BLOCK 18231</text>
<text class="nt" x="646.2" y="2601.1" font-size="22" textLength="303.2" lengthAdjust="spacingAndGlyphs">CITY OF SAN ANTONIO</text>
<text class="nt" x="641.9" y="2627.9" font-size="22" textLength="312.5" lengthAdjust="spacingAndGlyphs">BEXAR COUNTY, TEXAS</text>
<text class="si" x="581.7" y="2573.0" font-size="35" textLength="436.2" lengthAdjust="spacingAndGlyphs">ROSEMONT HILL P.U.D.</text>
<text class="s" x="597.4" y="2724.8" font-size="19" textLength="109.6" lengthAdjust="spacingAndGlyphs">DRAWN  BY:</text>
<text class="s" x="732.0" y="2721.4" font-size="19" textLength="37.0" lengthAdjust="spacingAndGlyphs">R.A.</text>
<line x1="718.8" y1="2726.8" x2="785.6" y2="2726.8" stroke="#000" stroke-width="1.8"/>
<text class="s" x="803.3" y="2724.8" font-size="19" textLength="50.8" lengthAdjust="spacingAndGlyphs">DATE:</text>
<text class="s" x="870.8" y="2721.4" font-size="19" textLength="114.3" lengthAdjust="spacingAndGlyphs">4/30/2025</text>
<line x1="866.8" y1="2726.8" x2="986.1" y2="2726.8" stroke="#000" stroke-width="1.8"/>
<line x1="1065.2" y1="2614.2" x2="1644.0" y2="2614.2" stroke="#000" stroke-width="5"/>
<path d="M1129.0,2688.7 A110.8,110.8 0 1 1 1285.6,2688.7 L1270.6,2673.7 A89.5,89.5 0 1 0 1144.0,2673.7 Z" fill="#DC6232" stroke="#000" stroke-width="1.6"/>
<circle cx="1207.3" cy="2610.4" r="63" fill="none" stroke="#2B2B2B" stroke-width="18.5"/>
<path d="M1273.0,2699.2 A110.5,110.5 0 0 1 1141.6,2699.2 L1155.6,2680.3 A87,87 0 0 0 1259.0,2680.3 Z" fill="#2B2B2B" stroke="none" stroke-width="0"/>
<line x1="1207.3" y1="2474" x2="1207.3" y2="2742" stroke="#2B2B2B" stroke-width="9.5" stroke-linecap="round"/>
<polygon points="1193.4,2563.7 1221.2,2564.0 1236.2,2579.4 1236.2,2590.4 1219.2,2590.4 1219.2,2584.8 1215.5,2581.1 1195.4,2581.1 1195.4,2595.5 1200.1,2599.8 1226.2,2599.8 1236.2,2609.5 1236.2,2638.9 1221.5,2654.3 1193.4,2654.3 1178.4,2639.2 1178.4,2627.5 1195.4,2627.5 1195.4,2632.9 1200.1,2637.2 1214.8,2637.2 1219.2,2632.9 1219.2,2616.8 1193.4,2616.8 1178.4,2601.5 1178.4,2578.7" fill="#DC6232" stroke="#000" stroke-width="1.5"/>
<line x1="1207.8" y1="2564.0" x2="1207.8" y2="2581.0" stroke="#000" stroke-width="4"/>
<text class="st" x="1362.9" y="2573.8" font-size="28" textLength="223.8" lengthAdjust="spacingAndGlyphs">SINCLAIR  LAND</text>
<text class="st" x="1359.7" y="2602.7" font-size="28" textLength="243.0" lengthAdjust="spacingAndGlyphs">SURVEYING,  INC.</text>
<text class="s" x="1379.7" y="2638.8" font-size="22" textLength="188.6" lengthAdjust="spacingAndGlyphs">3411  MAGIC  DRIVE</text>
<text class="s" x="1336.8" y="2660.8" font-size="22" textLength="284.8" lengthAdjust="spacingAndGlyphs">SAN  ANTONIO,  TEXAS  78229</text>
<text class="s" x="1401.0" y="2682.9" font-size="22" textLength="157.6" lengthAdjust="spacingAndGlyphs">210–341–4518</text>
<text class="s" x="1338.8" y="2701.0" font-size="22" textLength="272.0" lengthAdjust="spacingAndGlyphs">TBPELS  FIRM  NO.10089000</text>
<text class="s" x="1327.6" y="2724.2" font-size="22" textLength="290.0" lengthAdjust="spacingAndGlyphs">JOB  NUMBER:  S–202581174</text>
</svg>
</body></html>
